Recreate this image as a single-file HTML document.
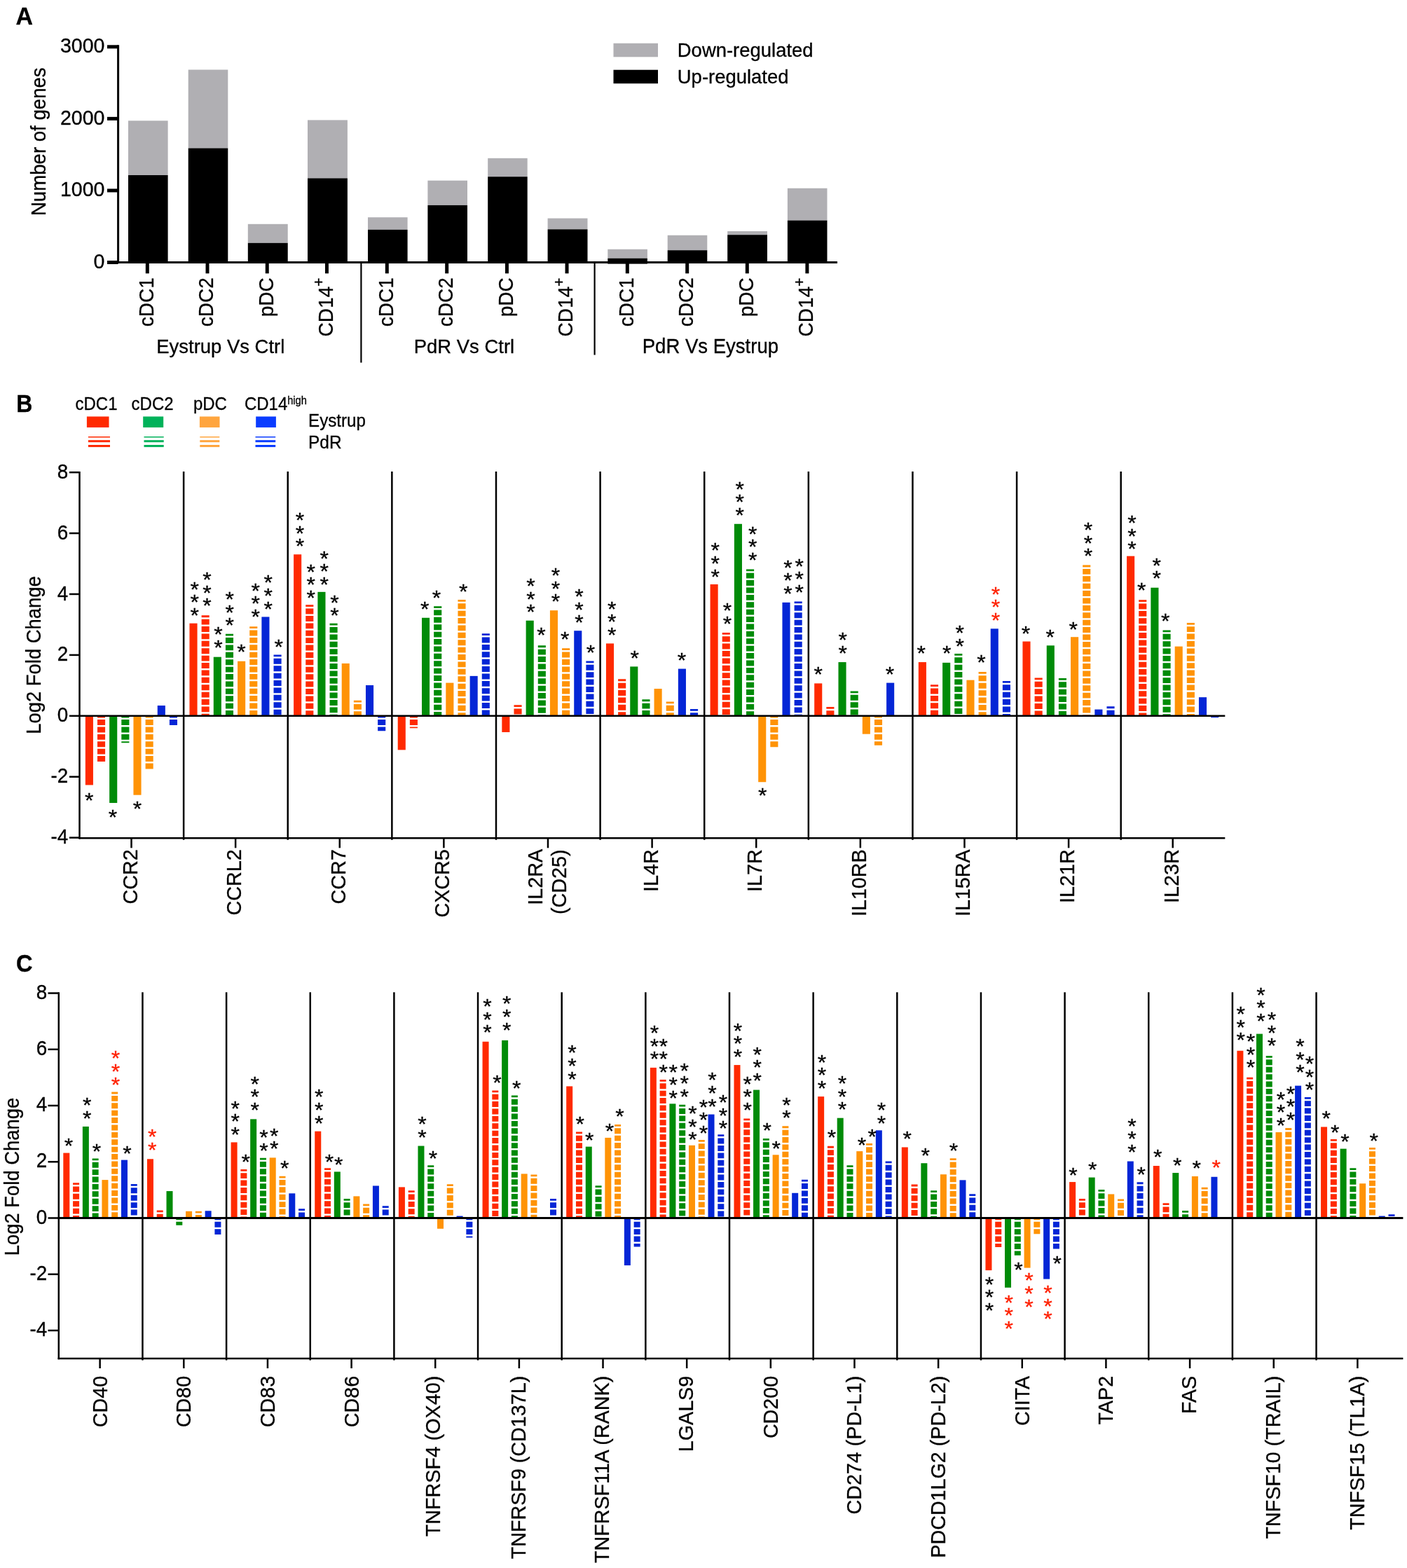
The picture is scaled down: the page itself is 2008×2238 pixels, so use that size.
<!DOCTYPE html>
<html lang="en"><head><meta charset="utf-8"><title>Figure</title>
<style>html,body{margin:0;padding:0;background:#fff}body{width:2008px;height:2238px;overflow:hidden}svg{display:block}</style>
</head><body>
<svg width="2008" height="2238" viewBox="0 0 2008 2238" font-family='"Liberation Sans", Arial, Helvetica, sans-serif' fill="#000">
<style>text{stroke:#000;stroke-width:.3px;paint-order:stroke fill}text.r{stroke:#ff2000}</style>
<defs>
</defs>
<rect width="2008" height="2238" fill="#fff"/>
<g id="panelA">
<text transform="translate(22.5 34.8) scale(1.06 1.07)" font-size="32" font-weight="bold">A</text>
<rect x="183" y="172.3" width="56.6" height="77.7" fill="#b0afb3"/>
<rect x="183" y="250" width="56.6" height="126" fill="#000"/>
<rect x="268.7" y="99.5" width="56.6" height="112" fill="#b0afb3"/>
<rect x="268.7" y="211.5" width="56.6" height="164.5" fill="#000"/>
<rect x="353.8" y="319.8" width="56.9" height="27" fill="#b0afb3"/>
<rect x="353.8" y="346.8" width="56.9" height="29.2" fill="#000"/>
<rect x="439" y="171.4" width="56.9" height="83" fill="#b0afb3"/>
<rect x="439" y="254.4" width="56.9" height="121.6" fill="#000"/>
<rect x="525" y="310.2" width="56.6" height="17.6" fill="#b0afb3"/>
<rect x="525" y="327.8" width="56.6" height="48.2" fill="#000"/>
<rect x="610.4" y="257.7" width="56.6" height="35.2" fill="#b0afb3"/>
<rect x="610.4" y="292.9" width="56.6" height="83.1" fill="#000"/>
<rect x="696.2" y="225.8" width="56.5" height="26.4" fill="#b0afb3"/>
<rect x="696.2" y="252.2" width="56.5" height="123.8" fill="#000"/>
<rect x="781.6" y="311.6" width="56.9" height="15.7" fill="#b0afb3"/>
<rect x="781.6" y="327.3" width="56.9" height="48.7" fill="#000"/>
<rect x="867.3" y="355.8" width="56.6" height="12.9" fill="#b0afb3"/>
<rect x="867.3" y="368.7" width="56.6" height="7.3" fill="#000"/>
<rect x="952.7" y="335.8" width="56.6" height="21.4" fill="#b0afb3"/>
<rect x="952.7" y="357.2" width="56.6" height="18.8" fill="#000"/>
<rect x="1038.2" y="330" width="56.8" height="5.2" fill="#b0afb3"/>
<rect x="1038.2" y="335.2" width="56.8" height="40.8" fill="#000"/>
<rect x="1123.9" y="268.7" width="56.6" height="45.9" fill="#b0afb3"/>
<rect x="1123.9" y="314.6" width="56.6" height="61.4" fill="#000"/>
<line x1="168.6" y1="64.3" x2="168.6" y2="376" stroke="#000" stroke-width="3"/>
<line x1="167.1" y1="374.5" x2="1195" y2="374.5" stroke="#000" stroke-width="3"/>
<line x1="153" y1="374.5" x2="168.6" y2="374.5" stroke="#000" stroke-width="5"/>
<text transform="translate(149.5 382.8) scale(1 1.03)" font-size="28.6" text-anchor="end">0</text>
<line x1="153" y1="271.93" x2="168.6" y2="271.93" stroke="#000" stroke-width="5"/>
<text transform="translate(149.5 280.23) scale(1 1.03)" font-size="28.6" text-anchor="end">1000</text>
<line x1="153" y1="169.36" x2="168.6" y2="169.36" stroke="#000" stroke-width="5"/>
<text transform="translate(149.5 177.66) scale(1 1.03)" font-size="28.6" text-anchor="end">2000</text>
<line x1="153" y1="66.79" x2="168.6" y2="66.79" stroke="#000" stroke-width="5"/>
<text transform="translate(149.5 75.09) scale(1 1.03)" font-size="28.6" text-anchor="end">3000</text>
<rect x="867.3" y="374" width="56.6" height="2.6" fill="#000"/>
<line x1="210.3" y1="374.5" x2="210.3" y2="390.3" stroke="#000" stroke-width="5"/>
<text transform="translate(218.6 396.3) rotate(-90) scale(1 1.07)" font-size="28" text-anchor="end">cDC1</text>
<line x1="296" y1="374.5" x2="296" y2="390.3" stroke="#000" stroke-width="5"/>
<text transform="translate(304.3 396.3) rotate(-90) scale(1 1.07)" font-size="28" text-anchor="end">cDC2</text>
<line x1="381.25" y1="374.5" x2="381.25" y2="390.3" stroke="#000" stroke-width="5"/>
<text transform="translate(389.55 396.3) rotate(-90) scale(1 1.07)" font-size="28" text-anchor="end">pDC</text>
<line x1="466.45" y1="374.5" x2="466.45" y2="390.3" stroke="#000" stroke-width="5"/>
<text transform="translate(474.75 396.6) rotate(-90) scale(1 1.07)" font-size="28" text-anchor="end">CD14<tspan font-size="21" dy="-11.5">+</tspan></text>
<line x1="552.3" y1="374.5" x2="552.3" y2="390.3" stroke="#000" stroke-width="5"/>
<text transform="translate(560.6 396.3) rotate(-90) scale(1 1.07)" font-size="28" text-anchor="end">cDC1</text>
<line x1="637.7" y1="374.5" x2="637.7" y2="390.3" stroke="#000" stroke-width="5"/>
<text transform="translate(646 396.3) rotate(-90) scale(1 1.07)" font-size="28" text-anchor="end">cDC2</text>
<line x1="723.45" y1="374.5" x2="723.45" y2="390.3" stroke="#000" stroke-width="5"/>
<text transform="translate(731.75 396.3) rotate(-90) scale(1 1.07)" font-size="28" text-anchor="end">pDC</text>
<line x1="809.05" y1="374.5" x2="809.05" y2="390.3" stroke="#000" stroke-width="5"/>
<text transform="translate(817.35 396.6) rotate(-90) scale(1 1.07)" font-size="28" text-anchor="end">CD14<tspan font-size="21" dy="-11.5">+</tspan></text>
<line x1="895.3" y1="374.5" x2="895.3" y2="390.3" stroke="#000" stroke-width="5"/>
<text transform="translate(903.6 396.3) rotate(-90) scale(1 1.07)" font-size="28" text-anchor="end">cDC1</text>
<line x1="980.7" y1="374.5" x2="980.7" y2="390.3" stroke="#000" stroke-width="5"/>
<text transform="translate(989 396.3) rotate(-90) scale(1 1.07)" font-size="28" text-anchor="end">cDC2</text>
<line x1="1066.3" y1="374.5" x2="1066.3" y2="390.3" stroke="#000" stroke-width="5"/>
<text transform="translate(1074.6 396.3) rotate(-90) scale(1 1.07)" font-size="28" text-anchor="end">pDC</text>
<line x1="1151.9" y1="374.5" x2="1151.9" y2="390.3" stroke="#000" stroke-width="5"/>
<text transform="translate(1160.2 396.6) rotate(-90) scale(1 1.07)" font-size="28" text-anchor="end">CD14<tspan font-size="21" dy="-11.5">+</tspan></text>
<line x1="515.4" y1="374.5" x2="515.4" y2="517.6" stroke="#000" stroke-width="2.2"/>
<line x1="848.6" y1="374.5" x2="848.6" y2="506.6" stroke="#000" stroke-width="2.2"/>
<text transform="translate(223.3 503.9) scale(1 1.04)" font-size="27.45">Eystrup Vs Ctrl</text>
<text transform="translate(590.8 503.9) scale(1 1.04)" font-size="27.45">PdR Vs Ctrl</text>
<text transform="translate(916.7 503.9) scale(1 1.04)" font-size="27.55">PdR Vs Eystrup</text>
<text transform="translate(65 202.2) rotate(-90) scale(1 1.06)" font-size="27.6" text-anchor="middle">Number of genes</text>
<rect x="875.5" y="61.8" width="63.5" height="19.5" fill="#b0afb3"/>
<rect x="875.5" y="99.7" width="63.5" height="19.5" fill="#000"/>
<text transform="translate(966.8 80.5) scale(1 1.04)" font-size="27.45">Down-regulated</text>
<text transform="translate(966.8 119.2) scale(1 1.04)" font-size="27.45">Up-regulated</text>
</g>
<g id="panelB">
<text transform="translate(23.3 588.1) scale(1 1.07)" font-size="32" font-weight="bold">B</text>
<text transform="translate(107.5 584.6) scale(1 1.08)" font-size="24">cDC1</text>
<text transform="translate(187.6 584.6) scale(1 1.08)" font-size="24">cDC2</text>
<text transform="translate(275.9 584.6) scale(1 1.08)" font-size="24">pDC</text>
<text transform="translate(348.9 584.6) scale(1 1.08)" font-size="24">CD14<tspan font-size="14.6" dy="-7.2">high</tspan></text>
<rect x="123.9" y="594.5" width="31.6" height="15.6" fill="#ff2a00"/>
<rect x="204.2" y="594.5" width="29" height="15.6" fill="#00b25a"/>
<rect x="284.9" y="594.5" width="28.6" height="15.6" fill="#ffa53e"/>
<rect x="365.2" y="594.5" width="28.7" height="15.6" fill="#0a3cff"/>
<rect x="125.9" y="623" width="31.1" height="1.5" fill="#ff2a00"/>
<rect x="125.9" y="628.2" width="31.1" height="3" fill="#ff2a00"/>
<rect x="125.9" y="635" width="31.1" height="3.1" fill="#ff2a00"/>
<rect x="205.5" y="623" width="28.2" height="1.5" fill="#00b25a"/>
<rect x="205.5" y="628.2" width="28.2" height="3" fill="#00b25a"/>
<rect x="205.5" y="635" width="28.2" height="3.1" fill="#00b25a"/>
<rect x="285.3" y="623" width="28" height="1.5" fill="#ffa53e"/>
<rect x="285.3" y="628.2" width="28" height="3" fill="#ffa53e"/>
<rect x="285.3" y="635" width="28" height="3.1" fill="#ffa53e"/>
<rect x="364.5" y="623" width="28.7" height="1.5" fill="#0a3cff"/>
<rect x="364.5" y="628.2" width="28.7" height="3" fill="#0a3cff"/>
<rect x="364.5" y="635" width="28.7" height="3.1" fill="#0a3cff"/>
<text transform="translate(440.1 609.3) scale(1 1.06)" font-size="24.1">Eystrup</text>
<text transform="translate(440.1 639.8) scale(1 1.06)" font-size="24.4">PdR</text>
<rect x="121.85" y="1021.8" width="11.1" height="98.66" fill="#ff2a00"/>
<path d="M139 1021.8h11.1v2.8h-11.1zM139 1027.1h11.1v7.9h-11.1zM139 1037.5h11.1v7.9h-11.1zM139 1047.9h11.1v7.9h-11.1zM139 1058.3h11.1v7.9h-11.1zM139 1068.7h11.1v7.9h-11.1zM139 1079.1h11.1v7.9h-11.1z" fill="#ff2a00"/>
<rect x="156.15" y="1021.8" width="11.1" height="124.24" fill="#008b08"/>
<path d="M173.3 1021.8h11.1v2.8h-11.1zM173.3 1027.1h11.1v7.9h-11.1zM173.3 1037.5h11.1v7.9h-11.1zM173.3 1047.9h11.1v7.9h-11.1zM173.3 1058.3h11.1v2.03h-11.1z" fill="#008b08"/>
<rect x="190.45" y="1021.8" width="11.1" height="112.9" fill="#ff9306"/>
<path d="M207.6 1021.8h11.1v2.8h-11.1zM207.6 1027.1h11.1v7.9h-11.1zM207.6 1037.5h11.1v7.9h-11.1zM207.6 1047.9h11.1v7.9h-11.1zM207.6 1058.3h11.1v7.9h-11.1zM207.6 1068.7h11.1v7.9h-11.1zM207.6 1079.1h11.1v7.9h-11.1zM207.6 1089.5h11.1v7.9h-11.1z" fill="#ff9306"/>
<rect x="224.75" y="1007.05" width="11.1" height="14.75" fill="#0426d6"/>
<path d="M241.9 1021.8h11.1v2.8h-11.1zM241.9 1027.1h11.1v7.9h-11.1z" fill="#0426d6"/>
<rect x="270.47" y="889.69" width="11.1" height="132.11" fill="#ff2a00"/>
<path d="M287.62 878.35h11.1v2.8h-11.1zM287.62 883.65h11.1v7.9h-11.1zM287.62 894.05h11.1v7.9h-11.1zM287.62 904.45h11.1v7.9h-11.1zM287.62 914.85h11.1v7.9h-11.1zM287.62 925.25h11.1v7.9h-11.1zM287.62 935.65h11.1v7.9h-11.1zM287.62 946.05h11.1v7.9h-11.1zM287.62 956.45h11.1v7.9h-11.1zM287.62 966.85h11.1v7.9h-11.1zM287.62 977.25h11.1v7.9h-11.1zM287.62 987.65h11.1v7.9h-11.1zM287.62 998.05h11.1v7.9h-11.1zM287.62 1008.45h11.1v7.9h-11.1zM287.62 1018.85h11.1v2.95h-11.1z" fill="#ff2a00"/>
<rect x="304.77" y="937.69" width="11.1" height="84.11" fill="#008b08"/>
<path d="M321.92 904.73h11.1v2.8h-11.1zM321.92 910.03h11.1v7.9h-11.1zM321.92 920.43h11.1v7.9h-11.1zM321.92 930.83h11.1v7.9h-11.1zM321.92 941.23h11.1v7.9h-11.1zM321.92 951.63h11.1v7.9h-11.1zM321.92 962.03h11.1v7.9h-11.1zM321.92 972.43h11.1v7.9h-11.1zM321.92 982.83h11.1v7.9h-11.1zM321.92 993.23h11.1v7.9h-11.1zM321.92 1003.63h11.1v7.9h-11.1zM321.92 1014.03h11.1v7.77h-11.1z" fill="#008b08"/>
<rect x="339.07" y="943.76" width="11.1" height="78.04" fill="#ff9306"/>
<path d="M356.22 894.18h11.1v2.8h-11.1zM356.22 899.48h11.1v7.9h-11.1zM356.22 909.88h11.1v7.9h-11.1zM356.22 920.28h11.1v7.9h-11.1zM356.22 930.68h11.1v7.9h-11.1zM356.22 941.08h11.1v7.9h-11.1zM356.22 951.48h11.1v7.9h-11.1zM356.22 961.88h11.1v7.9h-11.1zM356.22 972.28h11.1v7.9h-11.1zM356.22 982.68h11.1v7.9h-11.1zM356.22 993.08h11.1v7.9h-11.1zM356.22 1003.48h11.1v7.9h-11.1zM356.22 1013.88h11.1v7.9h-11.1z" fill="#ff9306"/>
<rect x="373.37" y="880.46" width="11.1" height="141.34" fill="#0426d6"/>
<path d="M390.52 934.53h11.1v2.8h-11.1zM390.52 939.83h11.1v7.9h-11.1zM390.52 950.23h11.1v7.9h-11.1zM390.52 960.63h11.1v7.9h-11.1zM390.52 971.03h11.1v7.9h-11.1zM390.52 981.43h11.1v7.9h-11.1zM390.52 991.83h11.1v7.9h-11.1zM390.52 1002.23h11.1v7.9h-11.1zM390.52 1012.63h11.1v7.9h-11.1z" fill="#0426d6"/>
<rect x="419.09" y="791.32" width="11.1" height="230.48" fill="#ff2a00"/>
<path d="M436.24 863.32h11.1v2.8h-11.1zM436.24 868.62h11.1v7.9h-11.1zM436.24 879.02h11.1v7.9h-11.1zM436.24 889.42h11.1v7.9h-11.1zM436.24 899.82h11.1v7.9h-11.1zM436.24 910.22h11.1v7.9h-11.1zM436.24 920.62h11.1v7.9h-11.1zM436.24 931.02h11.1v7.9h-11.1zM436.24 941.42h11.1v7.9h-11.1zM436.24 951.82h11.1v7.9h-11.1zM436.24 962.22h11.1v7.9h-11.1zM436.24 972.62h11.1v7.9h-11.1zM436.24 983.02h11.1v7.9h-11.1zM436.24 993.42h11.1v7.9h-11.1zM436.24 1003.82h11.1v7.9h-11.1zM436.24 1014.22h11.1v7.58h-11.1z" fill="#ff2a00"/>
<rect x="453.39" y="844.86" width="11.1" height="176.94" fill="#008b08"/>
<path d="M470.54 889.69h11.1v2.8h-11.1zM470.54 894.99h11.1v7.9h-11.1zM470.54 905.39h11.1v7.9h-11.1zM470.54 915.79h11.1v7.9h-11.1zM470.54 926.19h11.1v7.9h-11.1zM470.54 936.59h11.1v7.9h-11.1zM470.54 946.99h11.1v7.9h-11.1zM470.54 957.39h11.1v7.9h-11.1zM470.54 967.79h11.1v7.9h-11.1zM470.54 978.19h11.1v7.9h-11.1zM470.54 988.59h11.1v7.9h-11.1zM470.54 998.99h11.1v7.9h-11.1zM470.54 1009.39h11.1v7.9h-11.1zM470.54 1019.79h11.1v2.01h-11.1z" fill="#008b08"/>
<rect x="487.69" y="946.92" width="11.1" height="74.88" fill="#ff9306"/>
<path d="M504.84 999.67h11.1v2.8h-11.1zM504.84 1004.97h11.1v7.9h-11.1zM504.84 1015.37h11.1v6.43h-11.1z" fill="#ff9306"/>
<rect x="521.99" y="978.04" width="11.1" height="43.76" fill="#0426d6"/>
<path d="M539.14 1021.8h11.1v2.8h-11.1zM539.14 1027.1h11.1v7.9h-11.1zM539.14 1037.5h11.1v5.69h-11.1z" fill="#0426d6"/>
<rect x="567.71" y="1021.8" width="11.1" height="48.55" fill="#ff2a00"/>
<path d="M584.86 1021.8h11.1v2.8h-11.1zM584.86 1027.1h11.1v7.9h-11.1zM584.86 1037.5h11.1v1.73h-11.1z" fill="#ff2a00"/>
<rect x="602.01" y="881.78" width="11.1" height="140.02" fill="#008b08"/>
<path d="M619.16 865.16h11.1v2.8h-11.1zM619.16 870.46h11.1v7.9h-11.1zM619.16 880.86h11.1v7.9h-11.1zM619.16 891.26h11.1v7.9h-11.1zM619.16 901.66h11.1v7.9h-11.1zM619.16 912.06h11.1v7.9h-11.1zM619.16 922.46h11.1v7.9h-11.1zM619.16 932.86h11.1v7.9h-11.1zM619.16 943.26h11.1v7.9h-11.1zM619.16 953.66h11.1v7.9h-11.1zM619.16 964.06h11.1v7.9h-11.1zM619.16 974.46h11.1v7.9h-11.1zM619.16 984.86h11.1v7.9h-11.1zM619.16 995.26h11.1v7.9h-11.1zM619.16 1005.66h11.1v7.9h-11.1zM619.16 1016.06h11.1v5.74h-11.1z" fill="#008b08"/>
<rect x="636.31" y="974.62" width="11.1" height="47.18" fill="#ff9306"/>
<path d="M653.46 855.93h11.1v2.8h-11.1zM653.46 861.23h11.1v7.9h-11.1zM653.46 871.63h11.1v7.9h-11.1zM653.46 882.03h11.1v7.9h-11.1zM653.46 892.43h11.1v7.9h-11.1zM653.46 902.83h11.1v7.9h-11.1zM653.46 913.23h11.1v7.9h-11.1zM653.46 923.63h11.1v7.9h-11.1zM653.46 934.03h11.1v7.9h-11.1zM653.46 944.43h11.1v7.9h-11.1zM653.46 954.83h11.1v7.9h-11.1zM653.46 965.23h11.1v7.9h-11.1zM653.46 975.63h11.1v7.9h-11.1zM653.46 986.03h11.1v7.9h-11.1zM653.46 996.43h11.1v7.9h-11.1zM653.46 1006.83h11.1v7.9h-11.1zM653.46 1017.23h11.1v4.57h-11.1z" fill="#ff9306"/>
<rect x="670.61" y="964.86" width="11.1" height="56.94" fill="#0426d6"/>
<path d="M687.76 904.2h11.1v2.8h-11.1zM687.76 909.5h11.1v7.9h-11.1zM687.76 919.9h11.1v7.9h-11.1zM687.76 930.3h11.1v7.9h-11.1zM687.76 940.7h11.1v7.9h-11.1zM687.76 951.1h11.1v7.9h-11.1zM687.76 961.5h11.1v7.9h-11.1zM687.76 971.9h11.1v7.9h-11.1zM687.76 982.3h11.1v7.9h-11.1zM687.76 992.7h11.1v7.9h-11.1zM687.76 1003.1h11.1v7.9h-11.1zM687.76 1013.5h11.1v7.9h-11.1z" fill="#0426d6"/>
<rect x="716.33" y="1021.8" width="11.1" height="23.23" fill="#ff2a00"/>
<path d="M733.48 1006.26h11.1v2.8h-11.1zM733.48 1011.56h11.1v7.9h-11.1z" fill="#ff2a00"/>
<rect x="750.63" y="885.74" width="11.1" height="136.06" fill="#008b08"/>
<path d="M767.78 921.34h11.1v2.8h-11.1zM767.78 926.64h11.1v7.9h-11.1zM767.78 937.04h11.1v7.9h-11.1zM767.78 947.44h11.1v7.9h-11.1zM767.78 957.84h11.1v7.9h-11.1zM767.78 968.24h11.1v7.9h-11.1zM767.78 978.64h11.1v7.9h-11.1zM767.78 989.04h11.1v7.9h-11.1zM767.78 999.44h11.1v7.9h-11.1zM767.78 1009.84h11.1v7.9h-11.1zM767.78 1020.24h11.1v1.56h-11.1z" fill="#008b08"/>
<rect x="784.93" y="871.23" width="11.1" height="150.57" fill="#ff9306"/>
<path d="M802.08 925.3h11.1v2.8h-11.1zM802.08 930.6h11.1v7.9h-11.1zM802.08 941h11.1v7.9h-11.1zM802.08 951.4h11.1v7.9h-11.1zM802.08 961.8h11.1v7.9h-11.1zM802.08 972.2h11.1v7.9h-11.1zM802.08 982.6h11.1v7.9h-11.1zM802.08 993h11.1v7.9h-11.1zM802.08 1003.4h11.1v7.9h-11.1zM802.08 1013.8h11.1v7.9h-11.1z" fill="#ff9306"/>
<rect x="819.23" y="900.24" width="11.1" height="121.56" fill="#0426d6"/>
<path d="M836.38 943.49h11.1v2.8h-11.1zM836.38 948.79h11.1v7.9h-11.1zM836.38 959.19h11.1v7.9h-11.1zM836.38 969.59h11.1v7.9h-11.1zM836.38 979.99h11.1v7.9h-11.1zM836.38 990.39h11.1v7.9h-11.1zM836.38 1000.79h11.1v7.9h-11.1zM836.38 1011.19h11.1v7.9h-11.1zM836.38 1021.59h11.1v0.21h-11.1z" fill="#0426d6"/>
<rect x="864.95" y="918.44" width="11.1" height="103.36" fill="#ff2a00"/>
<path d="M882.1 969.34h11.1v2.8h-11.1zM882.1 974.64h11.1v7.9h-11.1zM882.1 985.04h11.1v7.9h-11.1zM882.1 995.44h11.1v7.9h-11.1zM882.1 1005.84h11.1v7.9h-11.1zM882.1 1016.24h11.1v5.56h-11.1z" fill="#ff2a00"/>
<rect x="899.25" y="951.41" width="11.1" height="70.39" fill="#008b08"/>
<path d="M916.4 998.35h11.1v2.8h-11.1zM916.4 1003.65h11.1v7.9h-11.1zM916.4 1014.05h11.1v7.75h-11.1z" fill="#008b08"/>
<rect x="933.55" y="983.05" width="11.1" height="38.75" fill="#ff9306"/>
<path d="M950.7 1001.52h11.1v2.8h-11.1zM950.7 1006.82h11.1v7.9h-11.1zM950.7 1017.22h11.1v4.58h-11.1z" fill="#ff9306"/>
<rect x="967.85" y="954.57" width="11.1" height="67.23" fill="#0426d6"/>
<path d="M985 1012.07h11.1v2.8h-11.1zM985 1017.37h11.1v4.43h-11.1z" fill="#0426d6"/>
<rect x="1013.57" y="834.04" width="11.1" height="187.76" fill="#ff2a00"/>
<path d="M1030.72 902.88h11.1v2.8h-11.1zM1030.72 908.18h11.1v7.9h-11.1zM1030.72 918.58h11.1v7.9h-11.1zM1030.72 928.98h11.1v7.9h-11.1zM1030.72 939.38h11.1v7.9h-11.1zM1030.72 949.78h11.1v7.9h-11.1zM1030.72 960.18h11.1v7.9h-11.1zM1030.72 970.58h11.1v7.9h-11.1zM1030.72 980.98h11.1v7.9h-11.1zM1030.72 991.38h11.1v7.9h-11.1zM1030.72 1001.78h11.1v7.9h-11.1zM1030.72 1012.18h11.1v7.9h-11.1z" fill="#ff2a00"/>
<rect x="1047.87" y="747.8" width="11.1" height="274" fill="#008b08"/>
<path d="M1065.02 812.42h11.1v2.8h-11.1zM1065.02 817.72h11.1v7.9h-11.1zM1065.02 828.12h11.1v7.9h-11.1zM1065.02 838.52h11.1v7.9h-11.1zM1065.02 848.92h11.1v7.9h-11.1zM1065.02 859.32h11.1v7.9h-11.1zM1065.02 869.72h11.1v7.9h-11.1zM1065.02 880.12h11.1v7.9h-11.1zM1065.02 890.52h11.1v7.9h-11.1zM1065.02 900.92h11.1v7.9h-11.1zM1065.02 911.32h11.1v7.9h-11.1zM1065.02 921.72h11.1v7.9h-11.1zM1065.02 932.12h11.1v7.9h-11.1zM1065.02 942.52h11.1v7.9h-11.1zM1065.02 952.92h11.1v7.9h-11.1zM1065.02 963.32h11.1v7.9h-11.1zM1065.02 973.72h11.1v7.9h-11.1zM1065.02 984.12h11.1v7.9h-11.1zM1065.02 994.52h11.1v7.9h-11.1zM1065.02 1004.92h11.1v7.9h-11.1zM1065.02 1015.32h11.1v6.48h-11.1z" fill="#008b08"/>
<rect x="1082.17" y="1021.8" width="11.1" height="94.44" fill="#ff9306"/>
<path d="M1099.32 1021.8h11.1v2.8h-11.1zM1099.32 1027.1h11.1v7.9h-11.1zM1099.32 1037.5h11.1v7.9h-11.1zM1099.32 1047.9h11.1v7.9h-11.1zM1099.32 1058.3h11.1v7.83h-11.1z" fill="#ff9306"/>
<rect x="1116.47" y="859.89" width="11.1" height="161.91" fill="#0426d6"/>
<path d="M1133.62 858.57h11.1v2.8h-11.1zM1133.62 863.87h11.1v7.9h-11.1zM1133.62 874.27h11.1v7.9h-11.1zM1133.62 884.67h11.1v7.9h-11.1zM1133.62 895.07h11.1v7.9h-11.1zM1133.62 905.47h11.1v7.9h-11.1zM1133.62 915.87h11.1v7.9h-11.1zM1133.62 926.27h11.1v7.9h-11.1zM1133.62 936.67h11.1v7.9h-11.1zM1133.62 947.07h11.1v7.9h-11.1zM1133.62 957.47h11.1v7.9h-11.1zM1133.62 967.87h11.1v7.9h-11.1zM1133.62 978.27h11.1v7.9h-11.1zM1133.62 988.67h11.1v7.9h-11.1zM1133.62 999.07h11.1v7.9h-11.1zM1133.62 1009.47h11.1v7.9h-11.1zM1133.62 1019.87h11.1v1.93h-11.1z" fill="#0426d6"/>
<rect x="1162.19" y="975.41" width="11.1" height="46.39" fill="#ff2a00"/>
<path d="M1179.34 1008.9h11.1v2.8h-11.1zM1179.34 1014.2h11.1v7.6h-11.1z" fill="#ff2a00"/>
<rect x="1196.49" y="945.08" width="11.1" height="76.72" fill="#008b08"/>
<path d="M1213.64 986.48h11.1v2.8h-11.1zM1213.64 991.78h11.1v7.9h-11.1zM1213.64 1002.18h11.1v7.9h-11.1zM1213.64 1012.58h11.1v7.9h-11.1z" fill="#008b08"/>
<rect x="1230.79" y="1021.8" width="11.1" height="25.87" fill="#ff9306"/>
<path d="M1247.94 1021.8h11.1v2.8h-11.1zM1247.94 1027.1h11.1v7.9h-11.1zM1247.94 1037.5h11.1v7.9h-11.1zM1247.94 1047.9h11.1v7.9h-11.1zM1247.94 1058.3h11.1v5.46h-11.1z" fill="#ff9306"/>
<rect x="1265.09" y="974.62" width="11.1" height="47.18" fill="#0426d6"/>
<rect x="1310.81" y="945.08" width="11.1" height="76.72" fill="#ff2a00"/>
<path d="M1327.96 977.25h11.1v2.8h-11.1zM1327.96 982.55h11.1v7.9h-11.1zM1327.96 992.95h11.1v7.9h-11.1zM1327.96 1003.35h11.1v7.9h-11.1zM1327.96 1013.75h11.1v7.9h-11.1z" fill="#ff2a00"/>
<rect x="1345.11" y="945.87" width="11.1" height="75.93" fill="#008b08"/>
<path d="M1362.26 932.95h11.1v2.8h-11.1zM1362.26 938.25h11.1v7.9h-11.1zM1362.26 948.65h11.1v7.9h-11.1zM1362.26 959.05h11.1v7.9h-11.1zM1362.26 969.45h11.1v7.9h-11.1zM1362.26 979.85h11.1v7.9h-11.1zM1362.26 990.25h11.1v7.9h-11.1zM1362.26 1000.65h11.1v7.9h-11.1zM1362.26 1011.05h11.1v7.9h-11.1zM1362.26 1021.45h11.1v0.35h-11.1z" fill="#008b08"/>
<rect x="1379.41" y="970.66" width="11.1" height="51.14" fill="#ff9306"/>
<path d="M1396.56 959.05h11.1v2.8h-11.1zM1396.56 964.35h11.1v7.9h-11.1zM1396.56 974.75h11.1v7.9h-11.1zM1396.56 985.15h11.1v7.9h-11.1zM1396.56 995.55h11.1v7.9h-11.1zM1396.56 1005.95h11.1v7.9h-11.1zM1396.56 1016.35h11.1v5.45h-11.1z" fill="#ff9306"/>
<rect x="1413.71" y="897.34" width="11.1" height="124.46" fill="#0426d6"/>
<path d="M1430.86 971.98h11.1v2.8h-11.1zM1430.86 977.28h11.1v7.9h-11.1zM1430.86 987.68h11.1v7.9h-11.1zM1430.86 998.08h11.1v7.9h-11.1zM1430.86 1008.48h11.1v7.9h-11.1zM1430.86 1018.88h11.1v2.92h-11.1z" fill="#0426d6"/>
<rect x="1459.43" y="915.54" width="11.1" height="106.26" fill="#ff2a00"/>
<path d="M1476.58 967.49h11.1v2.8h-11.1zM1476.58 972.79h11.1v7.9h-11.1zM1476.58 983.19h11.1v7.9h-11.1zM1476.58 993.59h11.1v7.9h-11.1zM1476.58 1003.99h11.1v7.9h-11.1zM1476.58 1014.39h11.1v7.41h-11.1z" fill="#ff2a00"/>
<rect x="1493.73" y="921.34" width="11.1" height="100.46" fill="#008b08"/>
<path d="M1510.88 968.02h11.1v2.8h-11.1zM1510.88 973.32h11.1v7.9h-11.1zM1510.88 983.72h11.1v7.9h-11.1zM1510.88 994.12h11.1v7.9h-11.1zM1510.88 1004.52h11.1v7.9h-11.1zM1510.88 1014.92h11.1v6.88h-11.1z" fill="#008b08"/>
<rect x="1528.03" y="909.21" width="11.1" height="112.59" fill="#ff9306"/>
<path d="M1545.18 806.62h11.1v2.8h-11.1zM1545.18 811.92h11.1v7.9h-11.1zM1545.18 822.32h11.1v7.9h-11.1zM1545.18 832.72h11.1v7.9h-11.1zM1545.18 843.12h11.1v7.9h-11.1zM1545.18 853.52h11.1v7.9h-11.1zM1545.18 863.92h11.1v7.9h-11.1zM1545.18 874.32h11.1v7.9h-11.1zM1545.18 884.72h11.1v7.9h-11.1zM1545.18 895.12h11.1v7.9h-11.1zM1545.18 905.52h11.1v7.9h-11.1zM1545.18 915.92h11.1v7.9h-11.1zM1545.18 926.32h11.1v7.9h-11.1zM1545.18 936.72h11.1v7.9h-11.1zM1545.18 947.12h11.1v7.9h-11.1zM1545.18 957.52h11.1v7.9h-11.1zM1545.18 967.92h11.1v7.9h-11.1zM1545.18 978.32h11.1v7.9h-11.1zM1545.18 988.72h11.1v7.9h-11.1zM1545.18 999.12h11.1v7.9h-11.1zM1545.18 1009.52h11.1v7.9h-11.1zM1545.18 1019.92h11.1v1.88h-11.1z" fill="#ff9306"/>
<rect x="1562.33" y="1012.59" width="11.1" height="9.21" fill="#0426d6"/>
<path d="M1579.48 1008.37h11.1v2.8h-11.1zM1579.48 1013.67h11.1v7.9h-11.1z" fill="#0426d6"/>
<rect x="1608.05" y="793.69" width="11.1" height="228.11" fill="#ff2a00"/>
<path d="M1625.2 856.2h11.1v2.8h-11.1zM1625.2 861.5h11.1v7.9h-11.1zM1625.2 871.9h11.1v7.9h-11.1zM1625.2 882.3h11.1v7.9h-11.1zM1625.2 892.7h11.1v7.9h-11.1zM1625.2 903.1h11.1v7.9h-11.1zM1625.2 913.5h11.1v7.9h-11.1zM1625.2 923.9h11.1v7.9h-11.1zM1625.2 934.3h11.1v7.9h-11.1zM1625.2 944.7h11.1v7.9h-11.1zM1625.2 955.1h11.1v7.9h-11.1zM1625.2 965.5h11.1v7.9h-11.1zM1625.2 975.9h11.1v7.9h-11.1zM1625.2 986.3h11.1v7.9h-11.1zM1625.2 996.7h11.1v7.9h-11.1zM1625.2 1007.1h11.1v7.9h-11.1zM1625.2 1017.5h11.1v4.3h-11.1z" fill="#ff2a00"/>
<rect x="1642.35" y="838.79" width="11.1" height="183.01" fill="#008b08"/>
<path d="M1659.5 899.45h11.1v2.8h-11.1zM1659.5 904.75h11.1v7.9h-11.1zM1659.5 915.15h11.1v7.9h-11.1zM1659.5 925.55h11.1v7.9h-11.1zM1659.5 935.95h11.1v7.9h-11.1zM1659.5 946.35h11.1v7.9h-11.1zM1659.5 956.75h11.1v7.9h-11.1zM1659.5 967.15h11.1v7.9h-11.1zM1659.5 977.55h11.1v7.9h-11.1zM1659.5 987.95h11.1v7.9h-11.1zM1659.5 998.35h11.1v7.9h-11.1zM1659.5 1008.75h11.1v7.9h-11.1zM1659.5 1019.15h11.1v2.65h-11.1z" fill="#008b08"/>
<rect x="1676.65" y="922.66" width="11.1" height="99.14" fill="#ff9306"/>
<path d="M1693.8 888.9h11.1v2.8h-11.1zM1693.8 894.2h11.1v7.9h-11.1zM1693.8 904.6h11.1v7.9h-11.1zM1693.8 915h11.1v7.9h-11.1zM1693.8 925.4h11.1v7.9h-11.1zM1693.8 935.8h11.1v7.9h-11.1zM1693.8 946.2h11.1v7.9h-11.1zM1693.8 956.6h11.1v7.9h-11.1zM1693.8 967h11.1v7.9h-11.1zM1693.8 977.4h11.1v7.9h-11.1zM1693.8 987.8h11.1v7.9h-11.1zM1693.8 998.2h11.1v7.9h-11.1zM1693.8 1008.6h11.1v7.9h-11.1zM1693.8 1019h11.1v2.8h-11.1z" fill="#ff9306"/>
<rect x="1710.95" y="995.19" width="11.1" height="26.61" fill="#0426d6"/>
<path d="M1728.1 1021.8h11.1v2.4h-11.1z" fill="#0426d6"/>
<line x1="113.5" y1="673" x2="113.5" y2="1197.5" stroke="#000" stroke-width="2.5"/>
<line x1="262.12" y1="673" x2="262.12" y2="1198.8" stroke="#000" stroke-width="2.5"/>
<line x1="410.74" y1="673" x2="410.74" y2="1198.8" stroke="#000" stroke-width="2.5"/>
<line x1="559.36" y1="673" x2="559.36" y2="1198.8" stroke="#000" stroke-width="2.5"/>
<line x1="707.98" y1="673" x2="707.98" y2="1198.8" stroke="#000" stroke-width="2.5"/>
<line x1="856.6" y1="673" x2="856.6" y2="1198.8" stroke="#000" stroke-width="2.5"/>
<line x1="1005.22" y1="673" x2="1005.22" y2="1198.8" stroke="#000" stroke-width="2.5"/>
<line x1="1153.84" y1="673" x2="1153.84" y2="1198.8" stroke="#000" stroke-width="2.5"/>
<line x1="1302.46" y1="673" x2="1302.46" y2="1198.8" stroke="#000" stroke-width="2.5"/>
<line x1="1451.08" y1="673" x2="1451.08" y2="1198.8" stroke="#000" stroke-width="2.5"/>
<line x1="1599.7" y1="673" x2="1599.7" y2="1198.8" stroke="#000" stroke-width="2.5"/>
<line x1="112.3" y1="1021.8" x2="1748.32" y2="1021.8" stroke="#000" stroke-width="2.5"/>
<line x1="112.3" y1="1196.3" x2="1748.32" y2="1196.3" stroke="#000" stroke-width="2.5"/>
<text transform="translate(127.32 1151.81) scale(1 0.95)" font-size="32" text-anchor="middle">*</text>
<text transform="translate(161.08 1176.34) scale(1 0.95)" font-size="32" text-anchor="middle">*</text>
<text transform="translate(195.89 1164.47) scale(1 0.95)" font-size="32" text-anchor="middle">*</text>
<text transform="translate(277.65 850.84) scale(1 0.95)" font-size="32" text-anchor="middle">*</text>
<text transform="translate(277.65 869.44) scale(1 0.95)" font-size="32" text-anchor="middle">*</text>
<text transform="translate(277.65 888.04) scale(1 0.95)" font-size="32" text-anchor="middle">*</text>
<text transform="translate(295.59 837.12) scale(1 0.95)" font-size="32" text-anchor="middle">*</text>
<text transform="translate(295.59 855.72) scale(1 0.95)" font-size="32" text-anchor="middle">*</text>
<text transform="translate(295.59 874.32) scale(1 0.95)" font-size="32" text-anchor="middle">*</text>
<text transform="translate(311.41 915.43) scale(1 0.95)" font-size="32" text-anchor="middle">*</text>
<text transform="translate(311.41 934.03) scale(1 0.95)" font-size="32" text-anchor="middle">*</text>
<text transform="translate(327.76 865.26) scale(1 0.95)" font-size="32" text-anchor="middle">*</text>
<text transform="translate(327.76 883.86) scale(1 0.95)" font-size="32" text-anchor="middle">*</text>
<text transform="translate(327.76 902.46) scale(1 0.95)" font-size="32" text-anchor="middle">*</text>
<text transform="translate(344.38 940.3) scale(1 0.95)" font-size="32" text-anchor="middle">*</text>
<text transform="translate(364.69 852.86) scale(1 0.95)" font-size="32" text-anchor="middle">*</text>
<text transform="translate(364.69 871.46) scale(1 0.95)" font-size="32" text-anchor="middle">*</text>
<text transform="translate(364.69 890.06) scale(1 0.95)" font-size="32" text-anchor="middle">*</text>
<text transform="translate(382.62 841.34) scale(1 0.95)" font-size="32" text-anchor="middle">*</text>
<text transform="translate(382.62 859.94) scale(1 0.95)" font-size="32" text-anchor="middle">*</text>
<text transform="translate(382.62 878.54) scale(1 0.95)" font-size="32" text-anchor="middle">*</text>
<text transform="translate(397.65 932.91) scale(1 0.95)" font-size="32" text-anchor="middle">*</text>
<text transform="translate(427.98 752.29) scale(1 0.95)" font-size="32" text-anchor="middle">*</text>
<text transform="translate(427.98 770.89) scale(1 0.95)" font-size="32" text-anchor="middle">*</text>
<text transform="translate(427.98 789.49) scale(1 0.95)" font-size="32" text-anchor="middle">*</text>
<text transform="translate(443.81 825.78) scale(1 0.95)" font-size="32" text-anchor="middle">*</text>
<text transform="translate(443.81 844.38) scale(1 0.95)" font-size="32" text-anchor="middle">*</text>
<text transform="translate(443.81 862.98) scale(1 0.95)" font-size="32" text-anchor="middle">*</text>
<text transform="translate(462.8 806.88) scale(1 0.95)" font-size="32" text-anchor="middle">*</text>
<text transform="translate(462.8 825.48) scale(1 0.95)" font-size="32" text-anchor="middle">*</text>
<text transform="translate(462.8 844.08) scale(1 0.95)" font-size="32" text-anchor="middle">*</text>
<text transform="translate(477.56 869.54) scale(1 0.95)" font-size="32" text-anchor="middle">*</text>
<text transform="translate(477.56 888.14) scale(1 0.95)" font-size="32" text-anchor="middle">*</text>
<text transform="translate(606.33 879.37) scale(1 0.95)" font-size="32" text-anchor="middle">*</text>
<text transform="translate(622.95 863.02) scale(1 0.95)" font-size="32" text-anchor="middle">*</text>
<text transform="translate(661.19 853.79) scale(1 0.95)" font-size="32" text-anchor="middle">*</text>
<text transform="translate(757.45 846.27) scale(1 0.95)" font-size="32" text-anchor="middle">*</text>
<text transform="translate(757.45 864.87) scale(1 0.95)" font-size="32" text-anchor="middle">*</text>
<text transform="translate(757.45 883.47) scale(1 0.95)" font-size="32" text-anchor="middle">*</text>
<text transform="translate(772.49 916.3) scale(1 0.95)" font-size="32" text-anchor="middle">*</text>
<text transform="translate(793.06 831.06) scale(1 0.95)" font-size="32" text-anchor="middle">*</text>
<text transform="translate(793.06 849.66) scale(1 0.95)" font-size="32" text-anchor="middle">*</text>
<text transform="translate(793.06 868.26) scale(1 0.95)" font-size="32" text-anchor="middle">*</text>
<text transform="translate(806.25 921.83) scale(1 0.95)" font-size="32" text-anchor="middle">*</text>
<text transform="translate(826.55 860.95) scale(1 0.95)" font-size="32" text-anchor="middle">*</text>
<text transform="translate(826.55 879.55) scale(1 0.95)" font-size="32" text-anchor="middle">*</text>
<text transform="translate(826.55 898.15) scale(1 0.95)" font-size="32" text-anchor="middle">*</text>
<text transform="translate(842.91 940.82) scale(1 0.95)" font-size="32" text-anchor="middle">*</text>
<text transform="translate(873.24 878.53) scale(1 0.95)" font-size="32" text-anchor="middle">*</text>
<text transform="translate(873.24 897.13) scale(1 0.95)" font-size="32" text-anchor="middle">*</text>
<text transform="translate(873.24 915.73) scale(1 0.95)" font-size="32" text-anchor="middle">*</text>
<text transform="translate(905.67 948.73) scale(1 0.95)" font-size="32" text-anchor="middle">*</text>
<text transform="translate(972.93 951.9) scale(1 0.95)" font-size="32" text-anchor="middle">*</text>
<text transform="translate(1020.73 795.37) scale(1 0.95)" font-size="32" text-anchor="middle">*</text>
<text transform="translate(1020.73 813.97) scale(1 0.95)" font-size="32" text-anchor="middle">*</text>
<text transform="translate(1020.73 832.57) scale(1 0.95)" font-size="32" text-anchor="middle">*</text>
<text transform="translate(1037.87 881.15) scale(1 0.95)" font-size="32" text-anchor="middle">*</text>
<text transform="translate(1037.87 899.75) scale(1 0.95)" font-size="32" text-anchor="middle">*</text>
<text transform="translate(1055.81 707.72) scale(1 0.95)" font-size="32" text-anchor="middle">*</text>
<text transform="translate(1055.81 726.32) scale(1 0.95)" font-size="32" text-anchor="middle">*</text>
<text transform="translate(1055.81 744.92) scale(1 0.95)" font-size="32" text-anchor="middle">*</text>
<text transform="translate(1074.27 771.72) scale(1 0.95)" font-size="32" text-anchor="middle">*</text>
<text transform="translate(1074.27 790.32) scale(1 0.95)" font-size="32" text-anchor="middle">*</text>
<text transform="translate(1074.27 808.92) scale(1 0.95)" font-size="32" text-anchor="middle">*</text>
<text transform="translate(1088.25 1144.69) scale(1 0.95)" font-size="32" text-anchor="middle">*</text>
<text transform="translate(1124.38 819.81) scale(1 0.95)" font-size="32" text-anchor="middle">*</text>
<text transform="translate(1124.38 838.41) scale(1 0.95)" font-size="32" text-anchor="middle">*</text>
<text transform="translate(1124.38 857.01) scale(1 0.95)" font-size="32" text-anchor="middle">*</text>
<text transform="translate(1140.73 817.78) scale(1 0.95)" font-size="32" text-anchor="middle">*</text>
<text transform="translate(1140.73 836.38) scale(1 0.95)" font-size="32" text-anchor="middle">*</text>
<text transform="translate(1140.73 854.98) scale(1 0.95)" font-size="32" text-anchor="middle">*</text>
<text transform="translate(1167.63 971.94) scale(1 0.95)" font-size="32" text-anchor="middle">*</text>
<text transform="translate(1202.71 923.35) scale(1 0.95)" font-size="32" text-anchor="middle">*</text>
<text transform="translate(1202.71 941.95) scale(1 0.95)" font-size="32" text-anchor="middle">*</text>
<text transform="translate(1269.96 971.94) scale(1 0.95)" font-size="32" text-anchor="middle">*</text>
<text transform="translate(1314.8 942.14) scale(1 0.95)" font-size="32" text-anchor="middle">*</text>
<text transform="translate(1351.19 942.14) scale(1 0.95)" font-size="32" text-anchor="middle">*</text>
<text transform="translate(1369.65 913.46) scale(1 0.95)" font-size="32" text-anchor="middle">*</text>
<text transform="translate(1369.65 932.06) scale(1 0.95)" font-size="32" text-anchor="middle">*</text>
<text transform="translate(1400.51 955.33) scale(1 0.95)" font-size="32" text-anchor="middle">*</text>
<text transform="translate(1421.08 857.61) scale(1 0.95)" font-size="32" text-anchor="middle" fill="#ff2000" class="r">*</text>
<text transform="translate(1421.08 876.21) scale(1 0.95)" font-size="32" text-anchor="middle" fill="#ff2000" class="r">*</text>
<text transform="translate(1421.08 894.81) scale(1 0.95)" font-size="32" text-anchor="middle" fill="#ff2000" class="r">*</text>
<text transform="translate(1463.92 913.92) scale(1 0.95)" font-size="32" text-anchor="middle">*</text>
<text transform="translate(1498.73 918.93) scale(1 0.95)" font-size="32" text-anchor="middle">*</text>
<text transform="translate(1531.7 907.86) scale(1 0.95)" font-size="32" text-anchor="middle">*</text>
<text transform="translate(1553.06 766) scale(1 0.95)" font-size="32" text-anchor="middle">*</text>
<text transform="translate(1553.06 784.6) scale(1 0.95)" font-size="32" text-anchor="middle">*</text>
<text transform="translate(1553.06 803.2) scale(1 0.95)" font-size="32" text-anchor="middle">*</text>
<text transform="translate(1615.56 756.24) scale(1 0.95)" font-size="32" text-anchor="middle">*</text>
<text transform="translate(1615.56 774.84) scale(1 0.95)" font-size="32" text-anchor="middle">*</text>
<text transform="translate(1615.56 793.44) scale(1 0.95)" font-size="32" text-anchor="middle">*</text>
<text transform="translate(1629.28 852.47) scale(1 0.95)" font-size="32" text-anchor="middle">*</text>
<text transform="translate(1650.64 816.8) scale(1 0.95)" font-size="32" text-anchor="middle">*</text>
<text transform="translate(1650.64 835.4) scale(1 0.95)" font-size="32" text-anchor="middle">*</text>
<text transform="translate(1663.3 895.99) scale(1 0.95)" font-size="32" text-anchor="middle">*</text>
<line x1="98.9" y1="674.2" x2="113.5" y2="674.2" stroke="#000" stroke-width="2.5"/>
<text transform="translate(97.2 682.7) scale(1 1.05)" font-size="27.8" text-anchor="end">8</text>
<line x1="98.9" y1="761.1" x2="113.5" y2="761.1" stroke="#000" stroke-width="2.5"/>
<text transform="translate(97.2 769.6) scale(1 1.05)" font-size="27.8" text-anchor="end">6</text>
<line x1="98.9" y1="848" x2="113.5" y2="848" stroke="#000" stroke-width="2.5"/>
<text transform="translate(97.2 856.5) scale(1 1.05)" font-size="27.8" text-anchor="end">4</text>
<line x1="98.9" y1="934.9" x2="113.5" y2="934.9" stroke="#000" stroke-width="2.5"/>
<text transform="translate(97.2 943.4) scale(1 1.05)" font-size="27.8" text-anchor="end">2</text>
<line x1="98.9" y1="1021.8" x2="113.5" y2="1021.8" stroke="#000" stroke-width="2.5"/>
<text transform="translate(97.2 1030.3) scale(1 1.05)" font-size="27.8" text-anchor="end">0</text>
<line x1="98.9" y1="1108.7" x2="113.5" y2="1108.7" stroke="#000" stroke-width="2.5"/>
<text transform="translate(97.2 1117.2) scale(1 1.05)" font-size="27.8" text-anchor="end">-2</text>
<line x1="98.9" y1="1195.6" x2="113.5" y2="1195.6" stroke="#000" stroke-width="2.5"/>
<text transform="translate(97.2 1204.1) scale(1 1.05)" font-size="27.8" text-anchor="end">-4</text>
<text transform="translate(58 935) rotate(-90) scale(1 1.08)" font-size="27.4" text-anchor="middle">Log2 Fold Change</text>
<line x1="187.51" y1="1196.3" x2="187.51" y2="1210.3" stroke="#000" stroke-width="2.5"/>
<text transform="translate(195.51 1212.3) rotate(-90) scale(1 1.03)" font-size="28.7" text-anchor="end">CCR2</text>
<line x1="336.13" y1="1196.3" x2="336.13" y2="1210.3" stroke="#000" stroke-width="2.5"/>
<text transform="translate(344.13 1212.3) rotate(-90) scale(1 1.03)" font-size="28.7" text-anchor="end">CCRL2</text>
<line x1="484.75" y1="1196.3" x2="484.75" y2="1210.3" stroke="#000" stroke-width="2.5"/>
<text transform="translate(492.75 1212.3) rotate(-90) scale(1 1.03)" font-size="28.7" text-anchor="end">CCR7</text>
<line x1="633.37" y1="1196.3" x2="633.37" y2="1210.3" stroke="#000" stroke-width="2.5"/>
<text transform="translate(641.37 1212.3) rotate(-90) scale(1 1.03)" font-size="28.7" text-anchor="end">CXCR5</text>
<line x1="781.99" y1="1196.3" x2="781.99" y2="1210.3" stroke="#000" stroke-width="2.5"/>
<text transform="translate(773.99 1211.7) rotate(-90) scale(1 1.03)" font-size="28.8" text-anchor="end">IL2RA</text>
<text transform="translate(807.89 1212.3) rotate(-90) scale(1 1.03)" font-size="28.8" text-anchor="end">(CD25)</text>
<line x1="930.61" y1="1196.3" x2="930.61" y2="1210.3" stroke="#000" stroke-width="2.5"/>
<text transform="translate(938.61 1212.3) rotate(-90) scale(1 1.03)" font-size="28.7" text-anchor="end">IL4R</text>
<line x1="1079.23" y1="1196.3" x2="1079.23" y2="1210.3" stroke="#000" stroke-width="2.5"/>
<text transform="translate(1087.23 1212.3) rotate(-90) scale(1 1.03)" font-size="28.7" text-anchor="end">IL7R</text>
<line x1="1227.85" y1="1196.3" x2="1227.85" y2="1210.3" stroke="#000" stroke-width="2.5"/>
<text transform="translate(1235.85 1212.3) rotate(-90) scale(1 1.03)" font-size="28.7" text-anchor="end">IL10RB</text>
<line x1="1376.47" y1="1196.3" x2="1376.47" y2="1210.3" stroke="#000" stroke-width="2.5"/>
<text transform="translate(1384.47 1212.3) rotate(-90) scale(1 1.03)" font-size="28.7" text-anchor="end">IL15RA</text>
<line x1="1525.09" y1="1196.3" x2="1525.09" y2="1210.3" stroke="#000" stroke-width="2.5"/>
<text transform="translate(1533.09 1212.3) rotate(-90) scale(1 1.03)" font-size="28.7" text-anchor="end">IL21R</text>
<line x1="1673.71" y1="1196.3" x2="1673.71" y2="1210.3" stroke="#000" stroke-width="2.5"/>
<text transform="translate(1681.71 1212.3) rotate(-90) scale(1 1.03)" font-size="28.7" text-anchor="end">IL23R</text>
</g>
<g id="panelC">
<text transform="translate(23 1386.6) scale(1.02 1.07)" font-size="32" font-weight="bold">C</text>
<rect x="90.3" y="1645.59" width="9" height="92.91" fill="#ff2a00"/>
<path d="M104.08 1688.15h9v2.8h-9zM104.08 1693.45h9v7.9h-9zM104.08 1703.85h9v7.9h-9zM104.08 1714.25h9v7.9h-9zM104.08 1724.65h9v7.9h-9zM104.08 1735.05h9v3.45h-9z" fill="#ff2a00"/>
<rect x="117.86" y="1607.91" width="9" height="130.59" fill="#008b08"/>
<path d="M131.64 1653.45h9v2.8h-9zM131.64 1658.75h9v7.9h-9zM131.64 1669.15h9v7.9h-9zM131.64 1679.55h9v7.9h-9zM131.64 1689.95h9v7.9h-9zM131.64 1700.35h9v7.9h-9zM131.64 1710.75h9v7.9h-9zM131.64 1721.15h9v7.9h-9zM131.64 1731.55h9v6.95h-9z" fill="#008b08"/>
<rect x="145.42" y="1684.08" width="9" height="54.42" fill="#ff9306"/>
<path d="M159.2 1558.58h9v2.8h-9zM159.2 1563.88h9v7.9h-9zM159.2 1574.28h9v7.9h-9zM159.2 1584.68h9v7.9h-9zM159.2 1595.08h9v7.9h-9zM159.2 1605.48h9v7.9h-9zM159.2 1615.88h9v7.9h-9zM159.2 1626.28h9v7.9h-9zM159.2 1636.68h9v7.9h-9zM159.2 1647.08h9v7.9h-9zM159.2 1657.48h9v7.9h-9zM159.2 1667.88h9v7.9h-9zM159.2 1678.28h9v7.9h-9zM159.2 1688.68h9v7.9h-9zM159.2 1699.08h9v7.9h-9zM159.2 1709.48h9v7.9h-9zM159.2 1719.88h9v7.9h-9zM159.2 1730.28h9v7.9h-9z" fill="#ff9306"/>
<rect x="172.98" y="1655.62" width="9" height="82.88" fill="#0426d6"/>
<path d="M186.76 1690.04h9v2.8h-9zM186.76 1695.34h9v7.9h-9zM186.76 1705.74h9v7.9h-9zM186.76 1716.14h9v7.9h-9zM186.76 1726.54h9v7.9h-9zM186.76 1736.94h9v1.56h-9z" fill="#0426d6"/>
<rect x="209.95" y="1654.26" width="9" height="84.24" fill="#ff2a00"/>
<path d="M223.73 1727.45h9v2.8h-9zM223.73 1732.75h9v5.75h-9z" fill="#ff2a00"/>
<rect x="237.51" y="1700.07" width="9" height="38.43" fill="#008b08"/>
<path d="M251.29 1738.5h9v2.8h-9zM251.29 1743.8h9v5.07h-9z" fill="#008b08"/>
<rect x="265.07" y="1728.81" width="9" height="9.69" fill="#ff9306"/>
<path d="M278.85 1728.81h9v2.8h-9zM278.85 1734.11h9v4.39h-9z" fill="#ff9306"/>
<rect x="292.63" y="1728.27" width="9" height="10.23" fill="#0426d6"/>
<path d="M306.41 1738.5h9v2.8h-9zM306.41 1743.8h9v7.9h-9zM306.41 1754.2h9v7.9h-9z" fill="#0426d6"/>
<rect x="329.6" y="1630.41" width="9" height="108.09" fill="#ff2a00"/>
<path d="M343.38 1668.9h9v2.8h-9zM343.38 1674.2h9v7.9h-9zM343.38 1684.6h9v7.9h-9zM343.38 1695h9v7.9h-9zM343.38 1705.4h9v7.9h-9zM343.38 1715.8h9v7.9h-9zM343.38 1726.2h9v7.9h-9zM343.38 1736.6h9v1.9h-9z" fill="#ff2a00"/>
<rect x="357.16" y="1597.34" width="9" height="141.16" fill="#008b08"/>
<path d="M370.94 1652.64h9v2.8h-9zM370.94 1657.94h9v7.9h-9zM370.94 1668.34h9v7.9h-9zM370.94 1678.74h9v7.9h-9zM370.94 1689.14h9v7.9h-9zM370.94 1699.54h9v7.9h-9zM370.94 1709.94h9v7.9h-9zM370.94 1720.34h9v7.9h-9zM370.94 1730.74h9v7.76h-9z" fill="#008b08"/>
<rect x="384.72" y="1652.37" width="9" height="86.13" fill="#ff9306"/>
<path d="M398.5 1678.66h9v2.8h-9zM398.5 1683.96h9v7.9h-9zM398.5 1694.36h9v7.9h-9zM398.5 1704.76h9v7.9h-9zM398.5 1715.16h9v7.9h-9zM398.5 1725.56h9v7.9h-9zM398.5 1735.96h9v2.54h-9z" fill="#ff9306"/>
<rect x="412.28" y="1703.33" width="9" height="35.17" fill="#0426d6"/>
<path d="M426.06 1725.28h9v2.8h-9zM426.06 1730.58h9v7.9h-9z" fill="#0426d6"/>
<rect x="449.25" y="1614.69" width="9" height="123.81" fill="#ff2a00"/>
<path d="M463.03 1667.27h9v2.8h-9zM463.03 1672.57h9v7.9h-9zM463.03 1682.97h9v7.9h-9zM463.03 1693.37h9v7.9h-9zM463.03 1703.77h9v7.9h-9zM463.03 1714.17h9v7.9h-9zM463.03 1724.57h9v7.9h-9zM463.03 1734.97h9v3.53h-9z" fill="#ff2a00"/>
<rect x="476.81" y="1672.42" width="9" height="66.08" fill="#008b08"/>
<path d="M490.59 1710.92h9v2.8h-9zM490.59 1716.22h9v7.9h-9zM490.59 1726.62h9v7.9h-9zM490.59 1737.02h9v1.48h-9z" fill="#008b08"/>
<rect x="504.37" y="1707.39" width="9" height="31.11" fill="#ff9306"/>
<path d="M518.15 1718.51h9v2.8h-9zM518.15 1723.81h9v7.9h-9zM518.15 1734.21h9v4.29h-9z" fill="#ff9306"/>
<rect x="531.93" y="1692.48" width="9" height="46.02" fill="#0426d6"/>
<path d="M545.71 1721.22h9v2.8h-9zM545.71 1726.52h9v7.9h-9zM545.71 1736.92h9v1.58h-9z" fill="#0426d6"/>
<rect x="568.9" y="1694.38" width="9" height="44.12" fill="#ff2a00"/>
<path d="M582.68 1699.26h9v2.8h-9zM582.68 1704.56h9v7.9h-9zM582.68 1714.96h9v7.9h-9zM582.68 1725.36h9v7.9h-9zM582.68 1735.76h9v2.74h-9z" fill="#ff2a00"/>
<rect x="596.46" y="1635.56" width="9" height="102.94" fill="#008b08"/>
<path d="M610.24 1663.21h9v2.8h-9zM610.24 1668.51h9v7.9h-9zM610.24 1678.91h9v7.9h-9zM610.24 1689.31h9v7.9h-9zM610.24 1699.71h9v7.9h-9zM610.24 1710.11h9v7.9h-9zM610.24 1720.51h9v7.9h-9zM610.24 1730.91h9v7.59h-9z" fill="#008b08"/>
<rect x="624.02" y="1738.5" width="9" height="15.25" fill="#ff9306"/>
<path d="M637.8 1690.32h9v2.8h-9zM637.8 1695.62h9v7.9h-9zM637.8 1706.02h9v7.9h-9zM637.8 1716.42h9v7.9h-9zM637.8 1726.82h9v7.9h-9zM637.8 1737.22h9v1.28h-9z" fill="#ff9306"/>
<rect x="651.58" y="1735.58" width="9" height="2.92" fill="#0426d6"/>
<path d="M665.36 1738.5h9v2.8h-9zM665.36 1743.8h9v7.9h-9zM665.36 1754.2h9v7.9h-9zM665.36 1764.6h9v1.89h-9z" fill="#0426d6"/>
<rect x="688.55" y="1486.74" width="9" height="251.76" fill="#ff2a00"/>
<path d="M702.33 1556.41h9v2.8h-9zM702.33 1561.71h9v7.9h-9zM702.33 1572.11h9v7.9h-9zM702.33 1582.51h9v7.9h-9zM702.33 1592.91h9v7.9h-9zM702.33 1603.31h9v7.9h-9zM702.33 1613.71h9v7.9h-9zM702.33 1624.11h9v7.9h-9zM702.33 1634.51h9v7.9h-9zM702.33 1644.91h9v7.9h-9zM702.33 1655.31h9v7.9h-9zM702.33 1665.71h9v7.9h-9zM702.33 1676.11h9v7.9h-9zM702.33 1686.51h9v7.9h-9zM702.33 1696.91h9v7.9h-9zM702.33 1707.31h9v7.9h-9zM702.33 1717.71h9v7.9h-9zM702.33 1728.11h9v7.9h-9z" fill="#ff2a00"/>
<rect x="716.11" y="1484.84" width="9" height="253.66" fill="#008b08"/>
<path d="M729.89 1563.45h9v2.8h-9zM729.89 1568.75h9v7.9h-9zM729.89 1579.15h9v7.9h-9zM729.89 1589.55h9v7.9h-9zM729.89 1599.95h9v7.9h-9zM729.89 1610.35h9v7.9h-9zM729.89 1620.75h9v7.9h-9zM729.89 1631.15h9v7.9h-9zM729.89 1641.55h9v7.9h-9zM729.89 1651.95h9v7.9h-9zM729.89 1662.35h9v7.9h-9zM729.89 1672.75h9v7.9h-9zM729.89 1683.15h9v7.9h-9zM729.89 1693.55h9v7.9h-9zM729.89 1703.95h9v7.9h-9zM729.89 1714.35h9v7.9h-9zM729.89 1724.75h9v7.9h-9zM729.89 1735.15h9v3.35h-9z" fill="#008b08"/>
<rect x="743.67" y="1675.41" width="9" height="63.09" fill="#ff9306"/>
<path d="M757.45 1676.49h9v2.8h-9zM757.45 1681.79h9v7.9h-9zM757.45 1692.19h9v7.9h-9zM757.45 1702.59h9v7.9h-9zM757.45 1712.99h9v7.9h-9zM757.45 1723.39h9v7.9h-9zM757.45 1733.79h9v4.71h-9z" fill="#ff9306"/>
<path d="M785.01 1710.92h9v2.8h-9zM785.01 1716.22h9v7.9h-9zM785.01 1726.62h9v7.9h-9zM785.01 1737.02h9v1.48h-9z" fill="#0426d6"/>
<rect x="808.2" y="1550.44" width="9" height="188.06" fill="#ff2a00"/>
<path d="M821.98 1615.5h9v2.8h-9zM821.98 1620.8h9v7.9h-9zM821.98 1631.2h9v7.9h-9zM821.98 1641.6h9v7.9h-9zM821.98 1652h9v7.9h-9zM821.98 1662.4h9v7.9h-9zM821.98 1672.8h9v7.9h-9zM821.98 1683.2h9v7.9h-9zM821.98 1693.6h9v7.9h-9zM821.98 1704h9v7.9h-9zM821.98 1714.4h9v7.9h-9zM821.98 1724.8h9v7.9h-9zM821.98 1735.2h9v3.3h-9z" fill="#ff2a00"/>
<rect x="835.76" y="1636.64" width="9" height="101.86" fill="#008b08"/>
<path d="M849.54 1692.21h9v2.8h-9zM849.54 1697.51h9v7.9h-9zM849.54 1707.91h9v7.9h-9zM849.54 1718.31h9v7.9h-9zM849.54 1728.71h9v7.9h-9z" fill="#008b08"/>
<rect x="863.32" y="1623.9" width="9" height="114.6" fill="#ff9306"/>
<path d="M877.1 1604.93h9v2.8h-9zM877.1 1610.23h9v7.9h-9zM877.1 1620.63h9v7.9h-9zM877.1 1631.03h9v7.9h-9zM877.1 1641.43h9v7.9h-9zM877.1 1651.83h9v7.9h-9zM877.1 1662.23h9v7.9h-9zM877.1 1672.63h9v7.9h-9zM877.1 1683.03h9v7.9h-9zM877.1 1693.43h9v7.9h-9zM877.1 1703.83h9v7.9h-9zM877.1 1714.23h9v7.9h-9zM877.1 1724.63h9v7.9h-9zM877.1 1735.03h9v3.47h-9z" fill="#ff9306"/>
<rect x="890.88" y="1738.5" width="9" height="67.56" fill="#0426d6"/>
<path d="M904.66 1738.5h9v2.8h-9zM904.66 1743.8h9v7.9h-9zM904.66 1754.2h9v7.9h-9zM904.66 1764.6h9v7.9h-9zM904.66 1775h9v4.5h-9z" fill="#0426d6"/>
<rect x="927.85" y="1523.88" width="9" height="214.62" fill="#ff2a00"/>
<path d="M941.63 1540.96h9v2.8h-9zM941.63 1546.26h9v7.9h-9zM941.63 1556.66h9v7.9h-9zM941.63 1567.06h9v7.9h-9zM941.63 1577.46h9v7.9h-9zM941.63 1587.86h9v7.9h-9zM941.63 1598.26h9v7.9h-9zM941.63 1608.66h9v7.9h-9zM941.63 1619.06h9v7.9h-9zM941.63 1629.46h9v7.9h-9zM941.63 1639.86h9v7.9h-9zM941.63 1650.26h9v7.9h-9zM941.63 1660.66h9v7.9h-9zM941.63 1671.06h9v7.9h-9zM941.63 1681.46h9v7.9h-9zM941.63 1691.86h9v7.9h-9zM941.63 1702.26h9v7.9h-9zM941.63 1712.66h9v7.9h-9zM941.63 1723.06h9v7.9h-9zM941.63 1733.46h9v5.04h-9z" fill="#ff2a00"/>
<rect x="955.41" y="1575.38" width="9" height="163.12" fill="#008b08"/>
<path d="M969.19 1576.74h9v2.8h-9zM969.19 1582.04h9v7.9h-9zM969.19 1592.44h9v7.9h-9zM969.19 1602.84h9v7.9h-9zM969.19 1613.24h9v7.9h-9zM969.19 1623.64h9v7.9h-9zM969.19 1634.04h9v7.9h-9zM969.19 1644.44h9v7.9h-9zM969.19 1654.84h9v7.9h-9zM969.19 1665.24h9v7.9h-9zM969.19 1675.64h9v7.9h-9zM969.19 1686.04h9v7.9h-9zM969.19 1696.44h9v7.9h-9zM969.19 1706.84h9v7.9h-9zM969.19 1717.24h9v7.9h-9zM969.19 1727.64h9v7.9h-9zM969.19 1738.04h9v0.46h-9z" fill="#008b08"/>
<rect x="982.97" y="1634.75" width="9" height="103.75" fill="#ff9306"/>
<path d="M996.75 1626.89h9v2.8h-9zM996.75 1632.19h9v7.9h-9zM996.75 1642.59h9v7.9h-9zM996.75 1652.99h9v7.9h-9zM996.75 1663.39h9v7.9h-9zM996.75 1673.79h9v7.9h-9zM996.75 1684.19h9v7.9h-9zM996.75 1694.59h9v7.9h-9zM996.75 1704.99h9v7.9h-9zM996.75 1715.39h9v7.9h-9zM996.75 1725.79h9v7.9h-9zM996.75 1736.19h9v2.31h-9z" fill="#ff9306"/>
<rect x="1010.53" y="1590.56" width="9" height="147.94" fill="#0426d6"/>
<path d="M1024.31 1619.3h9v2.8h-9zM1024.31 1624.6h9v7.9h-9zM1024.31 1635h9v7.9h-9zM1024.31 1645.4h9v7.9h-9zM1024.31 1655.8h9v7.9h-9zM1024.31 1666.2h9v7.9h-9zM1024.31 1676.6h9v7.9h-9zM1024.31 1687h9v7.9h-9zM1024.31 1697.4h9v7.9h-9zM1024.31 1707.8h9v7.9h-9zM1024.31 1718.2h9v7.9h-9zM1024.31 1728.6h9v7.9h-9z" fill="#0426d6"/>
<rect x="1047.5" y="1520.08" width="9" height="218.42" fill="#ff2a00"/>
<path d="M1061.28 1596.53h9v2.8h-9zM1061.28 1601.83h9v7.9h-9zM1061.28 1612.23h9v7.9h-9zM1061.28 1622.63h9v7.9h-9zM1061.28 1633.03h9v7.9h-9zM1061.28 1643.43h9v7.9h-9zM1061.28 1653.83h9v7.9h-9zM1061.28 1664.23h9v7.9h-9zM1061.28 1674.63h9v7.9h-9zM1061.28 1685.03h9v7.9h-9zM1061.28 1695.43h9v7.9h-9zM1061.28 1705.83h9v7.9h-9zM1061.28 1716.23h9v7.9h-9zM1061.28 1726.63h9v7.9h-9zM1061.28 1737.03h9v1.47h-9z" fill="#ff2a00"/>
<rect x="1075.06" y="1555.59" width="9" height="182.91" fill="#008b08"/>
<path d="M1088.84 1624.99h9v2.8h-9zM1088.84 1630.29h9v7.9h-9zM1088.84 1640.69h9v7.9h-9zM1088.84 1651.09h9v7.9h-9zM1088.84 1661.49h9v7.9h-9zM1088.84 1671.89h9v7.9h-9zM1088.84 1682.29h9v7.9h-9zM1088.84 1692.69h9v7.9h-9zM1088.84 1703.09h9v7.9h-9zM1088.84 1713.49h9v7.9h-9zM1088.84 1723.89h9v7.9h-9zM1088.84 1734.29h9v4.21h-9z" fill="#008b08"/>
<rect x="1102.62" y="1648.3" width="9" height="90.2" fill="#ff9306"/>
<path d="M1116.4 1607.37h9v2.8h-9zM1116.4 1612.67h9v7.9h-9zM1116.4 1623.07h9v7.9h-9zM1116.4 1633.47h9v7.9h-9zM1116.4 1643.87h9v7.9h-9zM1116.4 1654.27h9v7.9h-9zM1116.4 1664.67h9v7.9h-9zM1116.4 1675.07h9v7.9h-9zM1116.4 1685.47h9v7.9h-9zM1116.4 1695.87h9v7.9h-9zM1116.4 1706.27h9v7.9h-9zM1116.4 1716.67h9v7.9h-9zM1116.4 1727.07h9v7.9h-9zM1116.4 1737.47h9v1.03h-9z" fill="#ff9306"/>
<rect x="1130.18" y="1702.78" width="9" height="35.72" fill="#0426d6"/>
<path d="M1143.96 1683.81h9v2.8h-9zM1143.96 1689.11h9v7.9h-9zM1143.96 1699.51h9v7.9h-9zM1143.96 1709.91h9v7.9h-9zM1143.96 1720.31h9v7.9h-9zM1143.96 1730.71h9v7.79h-9z" fill="#0426d6"/>
<rect x="1167.15" y="1565.08" width="9" height="173.42" fill="#ff2a00"/>
<path d="M1180.93 1635.83h9v2.8h-9zM1180.93 1641.13h9v7.9h-9zM1180.93 1651.53h9v7.9h-9zM1180.93 1661.93h9v7.9h-9zM1180.93 1672.33h9v7.9h-9zM1180.93 1682.73h9v7.9h-9zM1180.93 1693.13h9v7.9h-9zM1180.93 1703.53h9v7.9h-9zM1180.93 1713.93h9v7.9h-9zM1180.93 1724.33h9v7.9h-9zM1180.93 1734.73h9v3.77h-9z" fill="#ff2a00"/>
<rect x="1194.71" y="1595.71" width="9" height="142.79" fill="#008b08"/>
<path d="M1208.49 1663.21h9v2.8h-9zM1208.49 1668.51h9v7.9h-9zM1208.49 1678.91h9v7.9h-9zM1208.49 1689.31h9v7.9h-9zM1208.49 1699.71h9v7.9h-9zM1208.49 1710.11h9v7.9h-9zM1208.49 1720.51h9v7.9h-9zM1208.49 1730.91h9v7.59h-9z" fill="#008b08"/>
<rect x="1222.27" y="1643.15" width="9" height="95.35" fill="#ff9306"/>
<path d="M1236.05 1632.04h9v2.8h-9zM1236.05 1637.34h9v7.9h-9zM1236.05 1647.74h9v7.9h-9zM1236.05 1658.14h9v7.9h-9zM1236.05 1668.54h9v7.9h-9zM1236.05 1678.94h9v7.9h-9zM1236.05 1689.34h9v7.9h-9zM1236.05 1699.74h9v7.9h-9zM1236.05 1710.14h9v7.9h-9zM1236.05 1720.54h9v7.9h-9zM1236.05 1730.94h9v7.56h-9z" fill="#ff9306"/>
<rect x="1249.83" y="1613.33" width="9" height="125.17" fill="#0426d6"/>
<path d="M1263.61 1657.52h9v2.8h-9zM1263.61 1662.82h9v7.9h-9zM1263.61 1673.22h9v7.9h-9zM1263.61 1683.62h9v7.9h-9zM1263.61 1694.02h9v7.9h-9zM1263.61 1704.42h9v7.9h-9zM1263.61 1714.82h9v7.9h-9zM1263.61 1725.22h9v7.9h-9zM1263.61 1735.62h9v2.88h-9z" fill="#0426d6"/>
<rect x="1286.8" y="1637.46" width="9" height="101.04" fill="#ff2a00"/>
<path d="M1300.58 1690.59h9v2.8h-9zM1300.58 1695.89h9v7.9h-9zM1300.58 1706.29h9v7.9h-9zM1300.58 1716.69h9v7.9h-9zM1300.58 1727.09h9v7.9h-9zM1300.58 1737.49h9v1.01h-9z" fill="#ff2a00"/>
<rect x="1314.36" y="1660.23" width="9" height="78.27" fill="#008b08"/>
<path d="M1328.14 1699.26h9v2.8h-9zM1328.14 1704.56h9v7.9h-9zM1328.14 1714.96h9v7.9h-9zM1328.14 1725.36h9v7.9h-9zM1328.14 1735.76h9v2.74h-9z" fill="#008b08"/>
<rect x="1341.92" y="1676.22" width="9" height="62.28" fill="#ff9306"/>
<path d="M1355.7 1653.18h9v2.8h-9zM1355.7 1658.48h9v7.9h-9zM1355.7 1668.88h9v7.9h-9zM1355.7 1679.28h9v7.9h-9zM1355.7 1689.68h9v7.9h-9zM1355.7 1700.08h9v7.9h-9zM1355.7 1710.48h9v7.9h-9zM1355.7 1720.88h9v7.9h-9zM1355.7 1731.28h9v7.22h-9z" fill="#ff9306"/>
<rect x="1369.48" y="1684.35" width="9" height="54.15" fill="#0426d6"/>
<path d="M1383.26 1704.14h9v2.8h-9zM1383.26 1709.44h9v7.9h-9zM1383.26 1719.84h9v7.9h-9zM1383.26 1730.24h9v7.9h-9z" fill="#0426d6"/>
<rect x="1406.45" y="1738.5" width="9" height="74.61" fill="#ff2a00"/>
<path d="M1420.23 1738.5h9v2.8h-9zM1420.23 1743.8h9v7.9h-9zM1420.23 1754.2h9v7.9h-9zM1420.23 1764.6h9v7.9h-9zM1420.23 1775h9v5.04h-9z" fill="#ff2a00"/>
<rect x="1434.01" y="1738.5" width="9" height="99.28" fill="#008b08"/>
<path d="M1447.79 1738.5h9v2.8h-9zM1447.79 1743.8h9v7.9h-9zM1447.79 1754.2h9v7.9h-9zM1447.79 1764.6h9v7.9h-9zM1447.79 1775h9v7.9h-9zM1447.79 1785.4h9v6.3h-9z" fill="#008b08"/>
<rect x="1461.57" y="1738.5" width="9" height="71.09" fill="#ff9306"/>
<path d="M1475.35 1738.5h9v2.8h-9zM1475.35 1743.8h9v7.9h-9zM1475.35 1754.2h9v7.14h-9z" fill="#ff9306"/>
<rect x="1489.13" y="1738.5" width="9" height="87.08" fill="#0426d6"/>
<path d="M1502.91 1738.5h9v2.8h-9zM1502.91 1743.8h9v7.9h-9zM1502.91 1754.2h9v7.9h-9zM1502.91 1764.6h9v7.9h-9zM1502.91 1775h9v7.48h-9z" fill="#0426d6"/>
<rect x="1526.1" y="1687.06" width="9" height="51.44" fill="#ff2a00"/>
<path d="M1539.88 1710.92h9v2.8h-9zM1539.88 1716.22h9v7.9h-9zM1539.88 1726.62h9v7.9h-9zM1539.88 1737.02h9v1.48h-9z" fill="#ff2a00"/>
<rect x="1553.66" y="1680.56" width="9" height="57.94" fill="#008b08"/>
<path d="M1567.44 1697.91h9v2.8h-9zM1567.44 1703.21h9v7.9h-9zM1567.44 1713.61h9v7.9h-9zM1567.44 1724.01h9v7.9h-9zM1567.44 1734.41h9v4.09h-9z" fill="#008b08"/>
<rect x="1581.22" y="1704.41" width="9" height="34.09" fill="#ff9306"/>
<path d="M1595 1711.46h9v2.8h-9zM1595 1716.76h9v7.9h-9zM1595 1727.16h9v7.9h-9zM1595 1737.56h9v0.94h-9z" fill="#ff9306"/>
<rect x="1608.78" y="1657.52" width="9" height="80.98" fill="#0426d6"/>
<path d="M1622.56 1687.33h9v2.8h-9zM1622.56 1692.63h9v7.9h-9zM1622.56 1703.03h9v7.9h-9zM1622.56 1713.43h9v7.9h-9zM1622.56 1723.83h9v7.9h-9zM1622.56 1734.23h9v4.27h-9z" fill="#0426d6"/>
<rect x="1645.75" y="1664.02" width="9" height="74.48" fill="#ff2a00"/>
<path d="M1659.53 1717.15h9v2.8h-9zM1659.53 1722.45h9v7.9h-9zM1659.53 1732.85h9v5.65h-9z" fill="#ff2a00"/>
<rect x="1673.31" y="1674.05" width="9" height="64.45" fill="#008b08"/>
<path d="M1687.09 1727.99h9v2.8h-9zM1687.09 1733.29h9v5.21h-9z" fill="#008b08"/>
<rect x="1700.87" y="1678.93" width="9" height="59.57" fill="#ff9306"/>
<path d="M1714.65 1694.65h9v2.8h-9zM1714.65 1699.95h9v7.9h-9zM1714.65 1710.35h9v7.9h-9zM1714.65 1720.75h9v7.9h-9zM1714.65 1731.15h9v7.35h-9z" fill="#ff9306"/>
<rect x="1728.43" y="1679.74" width="9" height="58.76" fill="#0426d6"/>
<rect x="1765.4" y="1499.75" width="9" height="238.75" fill="#ff2a00"/>
<path d="M1779.18 1537.7h9v2.8h-9zM1779.18 1543h9v7.9h-9zM1779.18 1553.4h9v7.9h-9zM1779.18 1563.8h9v7.9h-9zM1779.18 1574.2h9v7.9h-9zM1779.18 1584.6h9v7.9h-9zM1779.18 1595h9v7.9h-9zM1779.18 1605.4h9v7.9h-9zM1779.18 1615.8h9v7.9h-9zM1779.18 1626.2h9v7.9h-9zM1779.18 1636.6h9v7.9h-9zM1779.18 1647h9v7.9h-9zM1779.18 1657.4h9v7.9h-9zM1779.18 1667.8h9v7.9h-9zM1779.18 1678.2h9v7.9h-9zM1779.18 1688.6h9v7.9h-9zM1779.18 1699h9v7.9h-9zM1779.18 1709.4h9v7.9h-9zM1779.18 1719.8h9v7.9h-9zM1779.18 1730.2h9v7.9h-9z" fill="#ff2a00"/>
<rect x="1792.96" y="1475.63" width="9" height="262.87" fill="#008b08"/>
<path d="M1806.74 1507.07h9v2.8h-9zM1806.74 1512.37h9v7.9h-9zM1806.74 1522.77h9v7.9h-9zM1806.74 1533.17h9v7.9h-9zM1806.74 1543.57h9v7.9h-9zM1806.74 1553.97h9v7.9h-9zM1806.74 1564.37h9v7.9h-9zM1806.74 1574.77h9v7.9h-9zM1806.74 1585.17h9v7.9h-9zM1806.74 1595.57h9v7.9h-9zM1806.74 1605.97h9v7.9h-9zM1806.74 1616.37h9v7.9h-9zM1806.74 1626.77h9v7.9h-9zM1806.74 1637.17h9v7.9h-9zM1806.74 1647.57h9v7.9h-9zM1806.74 1657.97h9v7.9h-9zM1806.74 1668.37h9v7.9h-9zM1806.74 1678.77h9v7.9h-9zM1806.74 1689.17h9v7.9h-9zM1806.74 1699.57h9v7.9h-9zM1806.74 1709.97h9v7.9h-9zM1806.74 1720.37h9v7.9h-9zM1806.74 1730.77h9v7.73h-9z" fill="#008b08"/>
<rect x="1820.52" y="1616.04" width="9" height="122.46" fill="#ff9306"/>
<path d="M1834.3 1610.08h9v2.8h-9zM1834.3 1615.38h9v7.9h-9zM1834.3 1625.78h9v7.9h-9zM1834.3 1636.18h9v7.9h-9zM1834.3 1646.58h9v7.9h-9zM1834.3 1656.98h9v7.9h-9zM1834.3 1667.38h9v7.9h-9zM1834.3 1677.78h9v7.9h-9zM1834.3 1688.18h9v7.9h-9zM1834.3 1698.58h9v7.9h-9zM1834.3 1708.98h9v7.9h-9zM1834.3 1719.38h9v7.9h-9zM1834.3 1729.78h9v7.9h-9z" fill="#ff9306"/>
<rect x="1848.08" y="1549.63" width="9" height="188.87" fill="#0426d6"/>
<path d="M1861.86 1565.89h9v2.8h-9zM1861.86 1571.19h9v7.9h-9zM1861.86 1581.59h9v7.9h-9zM1861.86 1591.99h9v7.9h-9zM1861.86 1602.39h9v7.9h-9zM1861.86 1612.79h9v7.9h-9zM1861.86 1623.19h9v7.9h-9zM1861.86 1633.59h9v7.9h-9zM1861.86 1643.99h9v7.9h-9zM1861.86 1654.39h9v7.9h-9zM1861.86 1664.79h9v7.9h-9zM1861.86 1675.19h9v7.9h-9zM1861.86 1685.59h9v7.9h-9zM1861.86 1695.99h9v7.9h-9zM1861.86 1706.39h9v7.9h-9zM1861.86 1716.79h9v7.9h-9zM1861.86 1727.19h9v7.9h-9zM1861.86 1737.59h9v0.91h-9z" fill="#0426d6"/>
<rect x="1885.05" y="1608.45" width="9" height="130.05" fill="#ff2a00"/>
<path d="M1898.83 1626.07h9v2.8h-9zM1898.83 1631.37h9v7.9h-9zM1898.83 1641.77h9v7.9h-9zM1898.83 1652.17h9v7.9h-9zM1898.83 1662.57h9v7.9h-9zM1898.83 1672.97h9v7.9h-9zM1898.83 1683.37h9v7.9h-9zM1898.83 1693.77h9v7.9h-9zM1898.83 1704.17h9v7.9h-9zM1898.83 1714.57h9v7.9h-9zM1898.83 1724.97h9v7.9h-9zM1898.83 1735.37h9v3.13h-9z" fill="#ff2a00"/>
<rect x="1912.61" y="1639.63" width="9" height="98.87" fill="#008b08"/>
<path d="M1926.39 1667.27h9v2.8h-9zM1926.39 1672.57h9v7.9h-9zM1926.39 1682.97h9v7.9h-9zM1926.39 1693.37h9v7.9h-9zM1926.39 1703.77h9v7.9h-9zM1926.39 1714.17h9v7.9h-9zM1926.39 1724.57h9v7.9h-9zM1926.39 1734.97h9v3.53h-9z" fill="#008b08"/>
<rect x="1940.17" y="1689.23" width="9" height="49.27" fill="#ff9306"/>
<path d="M1953.95 1638h9v2.8h-9zM1953.95 1643.3h9v7.9h-9zM1953.95 1653.7h9v7.9h-9zM1953.95 1664.1h9v7.9h-9zM1953.95 1674.5h9v7.9h-9zM1953.95 1684.9h9v7.9h-9zM1953.95 1695.3h9v7.9h-9zM1953.95 1705.7h9v7.9h-9zM1953.95 1716.1h9v7.9h-9zM1953.95 1726.5h9v7.9h-9zM1953.95 1736.9h9v1.6h-9z" fill="#ff9306"/>
<rect x="1967.73" y="1735.58" width="9" height="2.92" fill="#0426d6"/>
<path d="M1981.51 1733.14h9v2.8h-9zM1981.51 1738.44h9v0.06h-9z" fill="#0426d6"/>
<line x1="83.8" y1="1416.34" x2="83.8" y2="1940.2" stroke="#000" stroke-width="2.5"/>
<line x1="203.45" y1="1416.34" x2="203.45" y2="1941.5" stroke="#000" stroke-width="2.5"/>
<line x1="323.1" y1="1416.34" x2="323.1" y2="1941.5" stroke="#000" stroke-width="2.5"/>
<line x1="442.75" y1="1416.34" x2="442.75" y2="1941.5" stroke="#000" stroke-width="2.5"/>
<line x1="562.4" y1="1416.34" x2="562.4" y2="1941.5" stroke="#000" stroke-width="2.5"/>
<line x1="682.05" y1="1416.34" x2="682.05" y2="1941.5" stroke="#000" stroke-width="2.5"/>
<line x1="801.7" y1="1416.34" x2="801.7" y2="1941.5" stroke="#000" stroke-width="2.5"/>
<line x1="921.35" y1="1416.34" x2="921.35" y2="1941.5" stroke="#000" stroke-width="2.5"/>
<line x1="1041" y1="1416.34" x2="1041" y2="1941.5" stroke="#000" stroke-width="2.5"/>
<line x1="1160.65" y1="1416.34" x2="1160.65" y2="1941.5" stroke="#000" stroke-width="2.5"/>
<line x1="1280.3" y1="1416.34" x2="1280.3" y2="1941.5" stroke="#000" stroke-width="2.5"/>
<line x1="1399.95" y1="1416.34" x2="1399.95" y2="1941.5" stroke="#000" stroke-width="2.5"/>
<line x1="1519.6" y1="1416.34" x2="1519.6" y2="1941.5" stroke="#000" stroke-width="2.5"/>
<line x1="1639.25" y1="1416.34" x2="1639.25" y2="1941.5" stroke="#000" stroke-width="2.5"/>
<line x1="1758.9" y1="1416.34" x2="1758.9" y2="1941.5" stroke="#000" stroke-width="2.5"/>
<line x1="1878.55" y1="1416.34" x2="1878.55" y2="1941.5" stroke="#000" stroke-width="2.5"/>
<line x1="82.6" y1="1738.5" x2="2002.4" y2="1738.5" stroke="#000" stroke-width="3.2"/>
<line x1="82.6" y1="1939" x2="2002.4" y2="1939" stroke="#000" stroke-width="2.5"/>
<text transform="translate(97.99 1644.9) scale(1 0.95)" font-size="32" text-anchor="middle">*</text>
<text transform="translate(124.28 1587.35) scale(1 0.95)" font-size="32" text-anchor="middle">*</text>
<text transform="translate(124.28 1605.95) scale(1 0.95)" font-size="32" text-anchor="middle">*</text>
<text transform="translate(138.1 1653.03) scale(1 0.95)" font-size="32" text-anchor="middle">*</text>
<text transform="translate(164.94 1520.49) scale(1 0.95)" font-size="32" text-anchor="middle" fill="#ff2000" class="r">*</text>
<text transform="translate(164.94 1539.09) scale(1 0.95)" font-size="32" text-anchor="middle" fill="#ff2000" class="r">*</text>
<text transform="translate(164.94 1557.69) scale(1 0.95)" font-size="32" text-anchor="middle" fill="#ff2000" class="r">*</text>
<text transform="translate(181.47 1655.75) scale(1 0.95)" font-size="32" text-anchor="middle">*</text>
<text transform="translate(217.26 1632.08) scale(1 0.95)" font-size="32" text-anchor="middle" fill="#ff2000" class="r">*</text>
<text transform="translate(217.26 1650.68) scale(1 0.95)" font-size="32" text-anchor="middle" fill="#ff2000" class="r">*</text>
<text transform="translate(335.71 1591.61) scale(1 0.95)" font-size="32" text-anchor="middle">*</text>
<text transform="translate(335.71 1610.21) scale(1 0.95)" font-size="32" text-anchor="middle">*</text>
<text transform="translate(335.71 1628.81) scale(1 0.95)" font-size="32" text-anchor="middle">*</text>
<text transform="translate(350.62 1668.49) scale(1 0.95)" font-size="32" text-anchor="middle">*</text>
<text transform="translate(363.63 1556.55) scale(1 0.95)" font-size="32" text-anchor="middle">*</text>
<text transform="translate(363.63 1575.15) scale(1 0.95)" font-size="32" text-anchor="middle">*</text>
<text transform="translate(363.63 1593.75) scale(1 0.95)" font-size="32" text-anchor="middle">*</text>
<text transform="translate(376.37 1633.43) scale(1 0.95)" font-size="32" text-anchor="middle">*</text>
<text transform="translate(376.37 1652.03) scale(1 0.95)" font-size="32" text-anchor="middle">*</text>
<text transform="translate(391.28 1630.72) scale(1 0.95)" font-size="32" text-anchor="middle">*</text>
<text transform="translate(391.28 1649.32) scale(1 0.95)" font-size="32" text-anchor="middle">*</text>
<text transform="translate(406.19 1677.16) scale(1 0.95)" font-size="32" text-anchor="middle">*</text>
<text transform="translate(455.34 1575.34) scale(1 0.95)" font-size="32" text-anchor="middle">*</text>
<text transform="translate(455.34 1593.94) scale(1 0.95)" font-size="32" text-anchor="middle">*</text>
<text transform="translate(455.34 1612.54) scale(1 0.95)" font-size="32" text-anchor="middle">*</text>
<text transform="translate(469.98 1667.67) scale(1 0.95)" font-size="32" text-anchor="middle">*</text>
<text transform="translate(483.26 1672.01) scale(1 0.95)" font-size="32" text-anchor="middle">*</text>
<text transform="translate(602.53 1614.46) scale(1 0.95)" font-size="32" text-anchor="middle">*</text>
<text transform="translate(602.53 1633.06) scale(1 0.95)" font-size="32" text-anchor="middle">*</text>
<text transform="translate(617.98 1662.52) scale(1 0.95)" font-size="32" text-anchor="middle">*</text>
<text transform="translate(695.51 1446.13) scale(1 0.95)" font-size="32" text-anchor="middle">*</text>
<text transform="translate(695.51 1464.73) scale(1 0.95)" font-size="32" text-anchor="middle">*</text>
<text transform="translate(695.51 1483.33) scale(1 0.95)" font-size="32" text-anchor="middle">*</text>
<text transform="translate(709.6 1554.64) scale(1 0.95)" font-size="32" text-anchor="middle">*</text>
<text transform="translate(723.16 1442.34) scale(1 0.95)" font-size="32" text-anchor="middle">*</text>
<text transform="translate(723.16 1460.94) scale(1 0.95)" font-size="32" text-anchor="middle">*</text>
<text transform="translate(723.16 1479.54) scale(1 0.95)" font-size="32" text-anchor="middle">*</text>
<text transform="translate(737.25 1562.77) scale(1 0.95)" font-size="32" text-anchor="middle">*</text>
<text transform="translate(816.4 1512.36) scale(1 0.95)" font-size="32" text-anchor="middle">*</text>
<text transform="translate(816.4 1530.96) scale(1 0.95)" font-size="32" text-anchor="middle">*</text>
<text transform="translate(816.4 1549.56) scale(1 0.95)" font-size="32" text-anchor="middle">*</text>
<text transform="translate(827.79 1613.73) scale(1 0.95)" font-size="32" text-anchor="middle">*</text>
<text transform="translate(841.34 1636.5) scale(1 0.95)" font-size="32" text-anchor="middle">*</text>
<text transform="translate(870.07 1623.76) scale(1 0.95)" font-size="32" text-anchor="middle">*</text>
<text transform="translate(884.44 1603.43) scale(1 0.95)" font-size="32" text-anchor="middle">*</text>
<text transform="translate(934.07 1484.08) scale(1 0.95)" font-size="32" text-anchor="middle">*</text>
<text transform="translate(934.07 1502.68) scale(1 0.95)" font-size="32" text-anchor="middle">*</text>
<text transform="translate(934.07 1521.28) scale(1 0.95)" font-size="32" text-anchor="middle">*</text>
<text transform="translate(946.81 1502.6) scale(1 0.95)" font-size="32" text-anchor="middle">*</text>
<text transform="translate(946.81 1521.2) scale(1 0.95)" font-size="32" text-anchor="middle">*</text>
<text transform="translate(946.81 1539.8) scale(1 0.95)" font-size="32" text-anchor="middle">*</text>
<text transform="translate(960.63 1539.74) scale(1 0.95)" font-size="32" text-anchor="middle">*</text>
<text transform="translate(960.63 1558.34) scale(1 0.95)" font-size="32" text-anchor="middle">*</text>
<text transform="translate(960.63 1576.94) scale(1 0.95)" font-size="32" text-anchor="middle">*</text>
<text transform="translate(976.62 1537.84) scale(1 0.95)" font-size="32" text-anchor="middle">*</text>
<text transform="translate(976.62 1556.44) scale(1 0.95)" font-size="32" text-anchor="middle">*</text>
<text transform="translate(976.62 1575.04) scale(1 0.95)" font-size="32" text-anchor="middle">*</text>
<text transform="translate(988.55 1599.2) scale(1 0.95)" font-size="32" text-anchor="middle">*</text>
<text transform="translate(988.55 1617.8) scale(1 0.95)" font-size="32" text-anchor="middle">*</text>
<text transform="translate(988.55 1636.4) scale(1 0.95)" font-size="32" text-anchor="middle">*</text>
<text transform="translate(1004 1589.8) scale(1 0.95)" font-size="32" text-anchor="middle">*</text>
<text transform="translate(1004 1608.4) scale(1 0.95)" font-size="32" text-anchor="middle">*</text>
<text transform="translate(1004 1627) scale(1 0.95)" font-size="32" text-anchor="middle">*</text>
<text transform="translate(1016.47 1551.4) scale(1 0.95)" font-size="32" text-anchor="middle">*</text>
<text transform="translate(1016.47 1570) scale(1 0.95)" font-size="32" text-anchor="middle">*</text>
<text transform="translate(1016.47 1588.6) scale(1 0.95)" font-size="32" text-anchor="middle">*</text>
<text transform="translate(1031.92 1583.11) scale(1 0.95)" font-size="32" text-anchor="middle">*</text>
<text transform="translate(1031.92 1601.71) scale(1 0.95)" font-size="32" text-anchor="middle">*</text>
<text transform="translate(1031.92 1620.31) scale(1 0.95)" font-size="32" text-anchor="middle">*</text>
<text transform="translate(1053.07 1480.83) scale(1 0.95)" font-size="32" text-anchor="middle">*</text>
<text transform="translate(1053.07 1499.43) scale(1 0.95)" font-size="32" text-anchor="middle">*</text>
<text transform="translate(1053.07 1518.03) scale(1 0.95)" font-size="32" text-anchor="middle">*</text>
<text transform="translate(1066.62 1556.82) scale(1 0.95)" font-size="32" text-anchor="middle">*</text>
<text transform="translate(1066.62 1575.42) scale(1 0.95)" font-size="32" text-anchor="middle">*</text>
<text transform="translate(1066.62 1594.02) scale(1 0.95)" font-size="32" text-anchor="middle">*</text>
<text transform="translate(1080.72 1514.71) scale(1 0.95)" font-size="32" text-anchor="middle">*</text>
<text transform="translate(1080.72 1533.31) scale(1 0.95)" font-size="32" text-anchor="middle">*</text>
<text transform="translate(1080.72 1551.91) scale(1 0.95)" font-size="32" text-anchor="middle">*</text>
<text transform="translate(1094.81 1622.95) scale(1 0.95)" font-size="32" text-anchor="middle">*</text>
<text transform="translate(1107.82 1648.97) scale(1 0.95)" font-size="32" text-anchor="middle">*</text>
<text transform="translate(1122.46 1586.81) scale(1 0.95)" font-size="32" text-anchor="middle">*</text>
<text transform="translate(1122.46 1605.41) scale(1 0.95)" font-size="32" text-anchor="middle">*</text>
<text transform="translate(1172.9 1525.83) scale(1 0.95)" font-size="32" text-anchor="middle">*</text>
<text transform="translate(1172.9 1544.43) scale(1 0.95)" font-size="32" text-anchor="middle">*</text>
<text transform="translate(1172.9 1563.03) scale(1 0.95)" font-size="32" text-anchor="middle">*</text>
<text transform="translate(1186.99 1633.25) scale(1 0.95)" font-size="32" text-anchor="middle">*</text>
<text transform="translate(1201.9 1556.19) scale(1 0.95)" font-size="32" text-anchor="middle">*</text>
<text transform="translate(1201.9 1574.79) scale(1 0.95)" font-size="32" text-anchor="middle">*</text>
<text transform="translate(1201.9 1593.39) scale(1 0.95)" font-size="32" text-anchor="middle">*</text>
<text transform="translate(1230.09 1644.09) scale(1 0.95)" font-size="32" text-anchor="middle">*</text>
<text transform="translate(1244.73 1631.89) scale(1 0.95)" font-size="32" text-anchor="middle">*</text>
<text transform="translate(1258.01 1594.13) scale(1 0.95)" font-size="32" text-anchor="middle">*</text>
<text transform="translate(1258.01 1612.73) scale(1 0.95)" font-size="32" text-anchor="middle">*</text>
<text transform="translate(1294.61 1635.14) scale(1 0.95)" font-size="32" text-anchor="middle">*</text>
<text transform="translate(1320.63 1659) scale(1 0.95)" font-size="32" text-anchor="middle">*</text>
<text transform="translate(1361.02 1651.68) scale(1 0.95)" font-size="32" text-anchor="middle">*</text>
<text transform="translate(1411.98 1842.8) scale(1 0.95)" font-size="32" text-anchor="middle">*</text>
<text transform="translate(1411.98 1861.4) scale(1 0.95)" font-size="32" text-anchor="middle">*</text>
<text transform="translate(1411.98 1880) scale(1 0.95)" font-size="32" text-anchor="middle">*</text>
<text transform="translate(1439.63 1868.55) scale(1 0.95)" font-size="32" text-anchor="middle" fill="#ff2000" class="r">*</text>
<text transform="translate(1439.63 1887.15) scale(1 0.95)" font-size="32" text-anchor="middle" fill="#ff2000" class="r">*</text>
<text transform="translate(1439.63 1905.75) scale(1 0.95)" font-size="32" text-anchor="middle" fill="#ff2000" class="r">*</text>
<text transform="translate(1453.46 1821.64) scale(1 0.95)" font-size="32" text-anchor="middle">*</text>
<text transform="translate(1468.36 1837.38) scale(1 0.95)" font-size="32" text-anchor="middle" fill="#ff2000" class="r">*</text>
<text transform="translate(1468.36 1855.98) scale(1 0.95)" font-size="32" text-anchor="middle" fill="#ff2000" class="r">*</text>
<text transform="translate(1468.36 1874.58) scale(1 0.95)" font-size="32" text-anchor="middle" fill="#ff2000" class="r">*</text>
<text transform="translate(1495.47 1854.99) scale(1 0.95)" font-size="32" text-anchor="middle" fill="#ff2000" class="r">*</text>
<text transform="translate(1495.47 1873.59) scale(1 0.95)" font-size="32" text-anchor="middle" fill="#ff2000" class="r">*</text>
<text transform="translate(1495.47 1892.19) scale(1 0.95)" font-size="32" text-anchor="middle" fill="#ff2000" class="r">*</text>
<text transform="translate(1508.75 1812.97) scale(1 0.95)" font-size="32" text-anchor="middle">*</text>
<text transform="translate(1531.52 1686.65) scale(1 0.95)" font-size="32" text-anchor="middle">*</text>
<text transform="translate(1559.17 1678.79) scale(1 0.95)" font-size="32" text-anchor="middle">*</text>
<text transform="translate(1615.56 1616.54) scale(1 0.95)" font-size="32" text-anchor="middle">*</text>
<text transform="translate(1615.56 1635.14) scale(1 0.95)" font-size="32" text-anchor="middle">*</text>
<text transform="translate(1615.56 1653.74) scale(1 0.95)" font-size="32" text-anchor="middle">*</text>
<text transform="translate(1628.84 1685.56) scale(1 0.95)" font-size="32" text-anchor="middle">*</text>
<text transform="translate(1652.28 1660.9) scale(1 0.95)" font-size="32" text-anchor="middle">*</text>
<text transform="translate(1680.2 1672.55) scale(1 0.95)" font-size="32" text-anchor="middle">*</text>
<text transform="translate(1707.85 1676.62) scale(1 0.95)" font-size="32" text-anchor="middle">*</text>
<text transform="translate(1735.77 1676.08) scale(1 0.95)" font-size="32" text-anchor="middle" fill="#ff2000" class="r">*</text>
<text transform="translate(1770.74 1456.97) scale(1 0.95)" font-size="32" text-anchor="middle">*</text>
<text transform="translate(1770.74 1475.57) scale(1 0.95)" font-size="32" text-anchor="middle">*</text>
<text transform="translate(1770.74 1494.17) scale(1 0.95)" font-size="32" text-anchor="middle">*</text>
<text transform="translate(1785.1 1496.19) scale(1 0.95)" font-size="32" text-anchor="middle">*</text>
<text transform="translate(1785.1 1514.79) scale(1 0.95)" font-size="32" text-anchor="middle">*</text>
<text transform="translate(1785.1 1533.39) scale(1 0.95)" font-size="32" text-anchor="middle">*</text>
<text transform="translate(1799.47 1429.69) scale(1 0.95)" font-size="32" text-anchor="middle">*</text>
<text transform="translate(1799.47 1448.29) scale(1 0.95)" font-size="32" text-anchor="middle">*</text>
<text transform="translate(1799.47 1466.89) scale(1 0.95)" font-size="32" text-anchor="middle">*</text>
<text transform="translate(1814.92 1465.2) scale(1 0.95)" font-size="32" text-anchor="middle">*</text>
<text transform="translate(1814.92 1483.8) scale(1 0.95)" font-size="32" text-anchor="middle">*</text>
<text transform="translate(1814.92 1502.4) scale(1 0.95)" font-size="32" text-anchor="middle">*</text>
<text transform="translate(1827.93 1578.5) scale(1 0.95)" font-size="32" text-anchor="middle">*</text>
<text transform="translate(1827.93 1597.1) scale(1 0.95)" font-size="32" text-anchor="middle">*</text>
<text transform="translate(1827.93 1615.7) scale(1 0.95)" font-size="32" text-anchor="middle">*</text>
<text transform="translate(1842.03 1570.64) scale(1 0.95)" font-size="32" text-anchor="middle">*</text>
<text transform="translate(1842.03 1589.24) scale(1 0.95)" font-size="32" text-anchor="middle">*</text>
<text transform="translate(1842.03 1607.84) scale(1 0.95)" font-size="32" text-anchor="middle">*</text>
<text transform="translate(1855.58 1503.24) scale(1 0.95)" font-size="32" text-anchor="middle">*</text>
<text transform="translate(1855.58 1521.84) scale(1 0.95)" font-size="32" text-anchor="middle">*</text>
<text transform="translate(1855.58 1540.44) scale(1 0.95)" font-size="32" text-anchor="middle">*</text>
<text transform="translate(1868.86 1527.9) scale(1 0.95)" font-size="32" text-anchor="middle">*</text>
<text transform="translate(1868.86 1546.5) scale(1 0.95)" font-size="32" text-anchor="middle">*</text>
<text transform="translate(1868.86 1565.1) scale(1 0.95)" font-size="32" text-anchor="middle">*</text>
<text transform="translate(1892.72 1605.6) scale(1 0.95)" font-size="32" text-anchor="middle">*</text>
<text transform="translate(1905.19 1626.47) scale(1 0.95)" font-size="32" text-anchor="middle">*</text>
<text transform="translate(1919.55 1639.48) scale(1 0.95)" font-size="32" text-anchor="middle">*</text>
<text transform="translate(1960.76 1638.13) scale(1 0.95)" font-size="32" text-anchor="middle">*</text>
<line x1="68.5" y1="1417.54" x2="83.8" y2="1417.54" stroke="#000" stroke-width="2.5"/>
<text transform="translate(67.2 1425.54) scale(1 1.05)" font-size="27.8" text-anchor="end">8</text>
<line x1="68.5" y1="1497.78" x2="83.8" y2="1497.78" stroke="#000" stroke-width="2.5"/>
<text transform="translate(67.2 1505.78) scale(1 1.05)" font-size="27.8" text-anchor="end">6</text>
<line x1="68.5" y1="1578.02" x2="83.8" y2="1578.02" stroke="#000" stroke-width="2.5"/>
<text transform="translate(67.2 1586.02) scale(1 1.05)" font-size="27.8" text-anchor="end">4</text>
<line x1="68.5" y1="1658.26" x2="83.8" y2="1658.26" stroke="#000" stroke-width="2.5"/>
<text transform="translate(67.2 1666.26) scale(1 1.05)" font-size="27.8" text-anchor="end">2</text>
<line x1="68.5" y1="1738.5" x2="83.8" y2="1738.5" stroke="#000" stroke-width="2.5"/>
<text transform="translate(67.2 1746.5) scale(1 1.05)" font-size="27.8" text-anchor="end">0</text>
<line x1="68.5" y1="1818.74" x2="83.8" y2="1818.74" stroke="#000" stroke-width="2.5"/>
<text transform="translate(67.2 1826.74) scale(1 1.05)" font-size="27.8" text-anchor="end">-2</text>
<line x1="68.5" y1="1898.98" x2="83.8" y2="1898.98" stroke="#000" stroke-width="2.5"/>
<text transform="translate(67.2 1906.98) scale(1 1.05)" font-size="27.8" text-anchor="end">-4</text>
<text transform="translate(27.2 1679.5) rotate(-90) scale(1 1.08)" font-size="27.4" text-anchor="middle">Log2 Fold Change</text>
<line x1="142.62" y1="1939" x2="142.62" y2="1953" stroke="#000" stroke-width="2.5"/>
<text transform="translate(152.72 1963.8) rotate(-90) scale(1 1.03)" font-size="28.7" text-anchor="end">CD40</text>
<line x1="262.28" y1="1939" x2="262.28" y2="1953" stroke="#000" stroke-width="2.5"/>
<text transform="translate(271.88 1963.8) rotate(-90) scale(1 1.03)" font-size="28.7" text-anchor="end">CD80</text>
<line x1="381.93" y1="1939" x2="381.93" y2="1953" stroke="#000" stroke-width="2.5"/>
<text transform="translate(392.03 1963.8) rotate(-90) scale(1 1.03)" font-size="28.7" text-anchor="end">CD83</text>
<line x1="501.58" y1="1939" x2="501.58" y2="1953" stroke="#000" stroke-width="2.5"/>
<text transform="translate(511.68 1963.8) rotate(-90) scale(1 1.03)" font-size="28.7" text-anchor="end">CD86</text>
<line x1="621.23" y1="1939" x2="621.23" y2="1953" stroke="#000" stroke-width="2.5"/>
<text transform="translate(628.03 1963.8) rotate(-90) scale(1 1.03)" font-size="28.7" text-anchor="end">TNFRSF4 (OX40)</text>
<line x1="740.88" y1="1939" x2="740.88" y2="1953" stroke="#000" stroke-width="2.5"/>
<text transform="translate(749.77 1963.8) rotate(-90) scale(1 1.03)" font-size="28.7" text-anchor="end">TNFRSF9 (CD137L)</text>
<line x1="860.52" y1="1939" x2="860.52" y2="1953" stroke="#000" stroke-width="2.5"/>
<text transform="translate(869.12 1963.8) rotate(-90) scale(1 1.03)" font-size="28.7" text-anchor="end">TNFRSF11A (RANK)</text>
<line x1="980.17" y1="1939" x2="980.17" y2="1953" stroke="#000" stroke-width="2.5"/>
<text transform="translate(989.07 1963.8) rotate(-90) scale(1 1.03)" font-size="28.7" text-anchor="end">LGALS9</text>
<line x1="1099.83" y1="1939" x2="1099.83" y2="1953" stroke="#000" stroke-width="2.5"/>
<text transform="translate(1109.92 1963.8) rotate(-90) scale(1 1.03)" font-size="28.7" text-anchor="end">CD200</text>
<line x1="1219.47" y1="1939" x2="1219.47" y2="1953" stroke="#000" stroke-width="2.5"/>
<text transform="translate(1228.57 1963.8) rotate(-90) scale(1 1.03)" font-size="28.7" text-anchor="end">CD274 (PD-L1)</text>
<line x1="1339.12" y1="1939" x2="1339.12" y2="1953" stroke="#000" stroke-width="2.5"/>
<text transform="translate(1348.72 1963.8) rotate(-90) scale(1 1.03)" font-size="28.7" text-anchor="end">PDCD1LG2 (PD-L2)</text>
<line x1="1458.78" y1="1939" x2="1458.78" y2="1953" stroke="#000" stroke-width="2.5"/>
<text transform="translate(1468.88 1963.8) rotate(-90) scale(1 1.03)" font-size="28.7" text-anchor="end">CIITA</text>
<line x1="1578.42" y1="1939" x2="1578.42" y2="1953" stroke="#000" stroke-width="2.5"/>
<text transform="translate(1588.02 1963.8) rotate(-90) scale(1 1.03)" font-size="28.7" text-anchor="end">TAP2</text>
<line x1="1698.08" y1="1939" x2="1698.08" y2="1953" stroke="#000" stroke-width="2.5"/>
<text transform="translate(1706.97 1963.8) rotate(-90) scale(1 1.03)" font-size="28.7" text-anchor="end">FAS</text>
<line x1="1817.73" y1="1939" x2="1817.73" y2="1953" stroke="#000" stroke-width="2.5"/>
<text transform="translate(1827.03 1963.8) rotate(-90) scale(1 1.03)" font-size="28.7" text-anchor="end">TNFSF10 (TRAIL)</text>
<line x1="1937.38" y1="1939" x2="1937.38" y2="1953" stroke="#000" stroke-width="2.5"/>
<text transform="translate(1946.97 1963.8) rotate(-90) scale(1 1.03)" font-size="28.7" text-anchor="end">TNFSF15 (TL1A)</text>
</g>
</svg>
</body></html>
